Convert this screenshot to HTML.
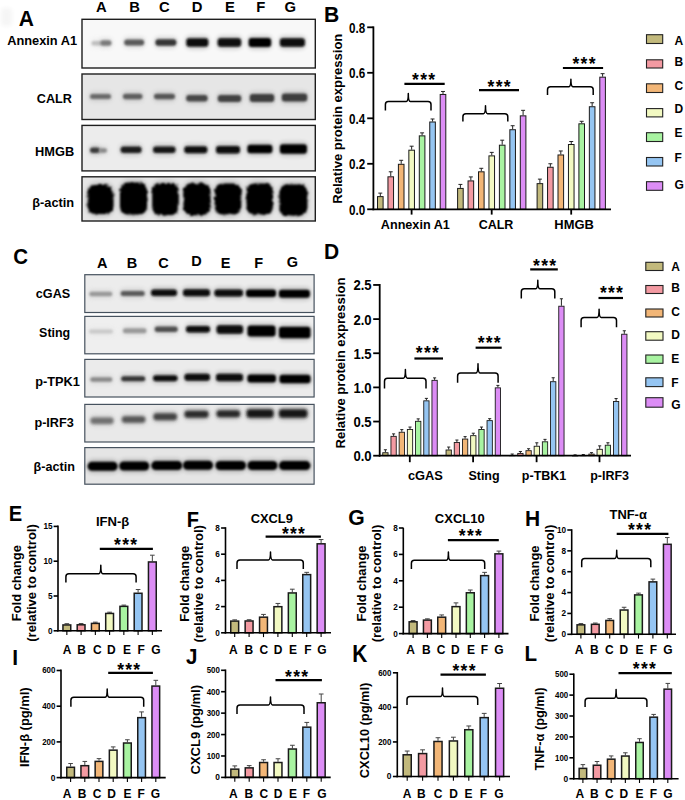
<!DOCTYPE html><html><head><meta charset="utf-8"><style>html,body{margin:0;padding:0;background:#fff;}svg{display:block;}text{font-family:"Liberation Sans", sans-serif;}</style></head><body>
<svg width="685" height="800" viewBox="0 0 685 800">
<defs><filter id="b1" x="-50%" y="-100%" width="200%" height="300%"><feGaussianBlur stdDeviation="1.3"/></filter><filter id="b2" x="-50%" y="-100%" width="200%" height="300%"><feGaussianBlur stdDeviation="2"/></filter><filter id="b4" x="-50%" y="-100%" width="200%" height="300%"><feGaussianBlur stdDeviation="1.7"/></filter><filter id="b3" x="-50%" y="-100%" width="200%" height="300%"><feGaussianBlur stdDeviation="0.8"/></filter><filter id="fz" x="-30%" y="-30%" width="160%" height="160%"><feTurbulence type="fractalNoise" baseFrequency="0.35" numOctaves="2" seed="3" result="n"/><feDisplacementMap in="SourceGraphic" in2="n" scale="3.5" xChannelSelector="R" yChannelSelector="G" result="d"/><feGaussianBlur in="d" stdDeviation="1.3"/></filter><filter id="fz2" x="-30%" y="-60%" width="160%" height="220%"><feTurbulence type="fractalNoise" baseFrequency="0.3" numOctaves="2" seed="7" result="n"/><feDisplacementMap in="SourceGraphic" in2="n" scale="2.5" xChannelSelector="R" yChannelSelector="G" result="d"/><feGaussianBlur in="d" stdDeviation="1.3"/></filter></defs>
<rect x="0" y="0" width="685" height="800" fill="#fff" stroke="none" stroke-width="0"/>
<rect x="1" y="8" width="11" height="18" rx="4" fill="#f5f5f5" filter="url(#b2)"/>
<text transform="translate(18.68 25.5) scale(1 1.09)" x="0" y="0" font-size="21" font-weight="bold">A</text>
<text x="101.3" y="12.2" font-size="14.8" text-anchor="middle" font-weight="bold" fill="#000">A</text>
<text x="134.5" y="12.2" font-size="14.8" text-anchor="middle" font-weight="bold" fill="#000">B</text>
<text x="164.4" y="12.2" font-size="14.8" text-anchor="middle" font-weight="bold" fill="#000">C</text>
<text x="197" y="12.2" font-size="14.8" text-anchor="middle" font-weight="bold" fill="#000">D</text>
<text x="229.9" y="12.2" font-size="14.8" text-anchor="middle" font-weight="bold" fill="#000">E</text>
<text x="260.8" y="12.2" font-size="14.8" text-anchor="middle" font-weight="bold" fill="#000">F</text>
<text x="290.3" y="12.2" font-size="14.8" text-anchor="middle" font-weight="bold" fill="#000">G</text>
<text x="7.2" y="45.4" font-size="13" text-anchor="start" font-weight="bold" fill="#000" textLength="69.9" lengthAdjust="spacingAndGlyphs">Annexin A1</text>
<text x="36.8" y="102.9" font-size="13" text-anchor="start" font-weight="bold" fill="#000" textLength="35.1" lengthAdjust="spacingAndGlyphs">CALR</text>
<text x="35.1" y="155.8" font-size="13" text-anchor="start" font-weight="bold" fill="#000" textLength="39.1" lengthAdjust="spacingAndGlyphs">HMGB</text>
<text x="32.2" y="206.6" font-size="13" text-anchor="start" font-weight="bold" fill="#000" textLength="42" lengthAdjust="spacingAndGlyphs">&#946;-actin</text>
<rect x="82" y="19.3" width="233.3" height="48.7" fill="#f8f8f8" stroke="#1e1e1e" stroke-width="1.4"/>
<rect x="90.5" y="38.45" width="13" height="9.5" rx="4.25" fill="#c0c0c0" opacity="0.18" filter="url(#b2)"/>
<rect x="91.5" y="40.95" width="11" height="4.5" rx="2.25" fill="#c0c0c0" opacity="1" filter="url(#b1)"/>
<rect x="99.5" y="37.75" width="13" height="10.5" rx="4.75" fill="#7a7a7a" opacity="0.18" filter="url(#b2)"/>
<rect x="100.5" y="40.25" width="11" height="5.5" rx="2.75" fill="#7a7a7a" opacity="1" filter="url(#b1)"/>
<rect x="123.2" y="36.9" width="22" height="11" rx="5" fill="#5a5a5a" opacity="0.18" filter="url(#b2)"/>
<rect x="124.2" y="39.4" width="20" height="6" rx="3" fill="#5a5a5a" opacity="1" filter="url(#b1)"/>
<rect x="154.4" y="36.65" width="23" height="11.5" rx="5" fill="#363636" opacity="0.18" filter="url(#b2)"/>
<rect x="155.4" y="39.15" width="21" height="6.5" rx="3" fill="#363636" opacity="1" filter="url(#b1)"/>
<rect x="185.3" y="35.65" width="24" height="13.5" rx="5" fill="#0a0a0a" opacity="0.18" filter="url(#b2)"/>
<rect x="186.3" y="38.15" width="22" height="8.5" rx="3" fill="#0a0a0a" opacity="1" filter="url(#b1)"/>
<rect x="216.65" y="35.65" width="25.5" height="13.5" rx="5" fill="#080808" opacity="0.18" filter="url(#b2)"/>
<rect x="217.65" y="38.15" width="23.5" height="8.5" rx="3" fill="#080808" opacity="1" filter="url(#b1)"/>
<rect x="247.65" y="35.4" width="24.5" height="14" rx="5" fill="#050505" opacity="0.18" filter="url(#b2)"/>
<rect x="248.65" y="37.9" width="22.5" height="9" rx="3" fill="#050505" opacity="1" filter="url(#b1)"/>
<rect x="278.9" y="35.65" width="27" height="13.5" rx="5" fill="#080808" opacity="0.18" filter="url(#b2)"/>
<rect x="279.9" y="38.15" width="25" height="8.5" rx="3" fill="#080808" opacity="1" filter="url(#b1)"/>
<rect x="82" y="74" width="233.3" height="45.5" fill="#e6e6e6" stroke="#1e1e1e" stroke-width="1.4"/>
<rect x="89" y="91.5" width="23" height="10" rx="4.5" fill="#6a6a6a" opacity="0.18" filter="url(#b2)"/>
<rect x="90" y="94" width="21" height="5" rx="2.5" fill="#6a6a6a" opacity="1" filter="url(#b1)"/>
<rect x="121.95" y="91.15" width="21.5" height="10.5" rx="4.75" fill="#5e5e5e" opacity="0.18" filter="url(#b2)"/>
<rect x="122.95" y="93.65" width="19.5" height="5.5" rx="2.75" fill="#5e5e5e" opacity="1" filter="url(#b1)"/>
<rect x="153" y="91.35" width="23" height="10.5" rx="4.75" fill="#565656" opacity="0.18" filter="url(#b2)"/>
<rect x="154" y="93.85" width="21" height="5.5" rx="2.75" fill="#565656" opacity="1" filter="url(#b1)"/>
<rect x="185.15" y="92.45" width="23.5" height="11.5" rx="5" fill="#464646" opacity="0.18" filter="url(#b2)"/>
<rect x="186.15" y="94.95" width="21.5" height="6.5" rx="3" fill="#464646" opacity="1" filter="url(#b1)"/>
<rect x="216.75" y="92.4" width="25.5" height="12" rx="5" fill="#424242" opacity="0.18" filter="url(#b2)"/>
<rect x="217.75" y="94.9" width="23.5" height="7" rx="3" fill="#424242" opacity="1" filter="url(#b1)"/>
<rect x="248.75" y="91.5" width="26.5" height="13" rx="5" fill="#3c3c3c" opacity="0.18" filter="url(#b2)"/>
<rect x="249.75" y="94" width="24.5" height="8" rx="3" fill="#3c3c3c" opacity="1" filter="url(#b1)"/>
<rect x="280.75" y="91.1" width="27.5" height="13" rx="5" fill="#3e3e3e" opacity="0.18" filter="url(#b2)"/>
<rect x="281.75" y="93.6" width="25.5" height="8" rx="3" fill="#3e3e3e" opacity="1" filter="url(#b1)"/>
<rect x="82" y="125.4" width="233.3" height="45.5" fill="#ececec" stroke="#1e1e1e" stroke-width="1.4"/>
<rect x="89" y="145.05" width="12" height="10.5" rx="4.75" fill="#3a3a3a" opacity="0.18" filter="url(#b2)"/>
<rect x="90" y="147.55" width="10" height="5.5" rx="2.75" fill="#3a3a3a" opacity="1" filter="url(#b1)"/>
<rect x="98" y="145.75" width="10" height="9.5" rx="4.25" fill="#8a8a8a" opacity="0.18" filter="url(#b2)"/>
<rect x="99" y="148.25" width="8" height="4.5" rx="2.25" fill="#8a8a8a" opacity="1" filter="url(#b1)"/>
<rect x="119.6" y="144.05" width="23" height="11.5" rx="5" fill="#1e1e1e" opacity="0.18" filter="url(#b2)"/>
<rect x="120.6" y="146.55" width="21" height="6.5" rx="3" fill="#1e1e1e" opacity="1" filter="url(#b1)"/>
<rect x="152.05" y="144.05" width="24.5" height="11.5" rx="5" fill="#161616" opacity="0.18" filter="url(#b2)"/>
<rect x="153.05" y="146.55" width="22.5" height="6.5" rx="3" fill="#161616" opacity="1" filter="url(#b1)"/>
<rect x="183.3" y="143.8" width="25" height="12" rx="5" fill="#0a0a0a" opacity="0.18" filter="url(#b2)"/>
<rect x="184.3" y="146.3" width="23" height="7" rx="3" fill="#0a0a0a" opacity="1" filter="url(#b1)"/>
<rect x="215" y="143.55" width="26" height="12.5" rx="5" fill="#0a0a0a" opacity="0.18" filter="url(#b2)"/>
<rect x="216" y="146.05" width="24" height="7.5" rx="3" fill="#0a0a0a" opacity="1" filter="url(#b1)"/>
<rect x="246.4" y="142.25" width="27" height="13.5" rx="5" fill="#050505" opacity="0.18" filter="url(#b2)"/>
<rect x="247.4" y="144.75" width="25" height="8.5" rx="3" fill="#050505" opacity="1" filter="url(#b1)"/>
<rect x="278.9" y="141.75" width="29" height="14.5" rx="5" fill="#050505" opacity="0.18" filter="url(#b2)"/>
<rect x="279.9" y="144.25" width="27" height="9.5" rx="3" fill="#050505" opacity="1" filter="url(#b1)"/>
<rect x="82" y="176.8" width="233.3" height="44.2" fill="#e6e6e6" stroke="#1e1e1e" stroke-width="1.4"/>
<rect x="86.5" y="182.5" width="28" height="34" rx="10" fill="#050505" opacity="0.18" filter="url(#b2)"/>
<rect x="87.5" y="185" width="26" height="29" rx="8" fill="#050505" opacity="1" filter="url(#fz)"/>
<rect x="119" y="180" width="29" height="37" rx="10" fill="#050505" opacity="0.18" filter="url(#b2)"/>
<rect x="120" y="182.5" width="27" height="32" rx="8" fill="#050505" opacity="1" filter="url(#fz)"/>
<rect x="151.25" y="180.5" width="28.5" height="37" rx="10" fill="#050505" opacity="0.18" filter="url(#b2)"/>
<rect x="152.25" y="183" width="26.5" height="32" rx="8" fill="#050505" opacity="1" filter="url(#fz)"/>
<rect x="182.5" y="180.7" width="29" height="37" rx="10" fill="#050505" opacity="0.18" filter="url(#b2)"/>
<rect x="183.5" y="183.2" width="27" height="32" rx="8" fill="#050505" opacity="1" filter="url(#fz)"/>
<rect x="213.75" y="181" width="28.5" height="36" rx="10" fill="#050505" opacity="0.18" filter="url(#b2)"/>
<rect x="214.75" y="183.5" width="26.5" height="31" rx="8" fill="#050505" opacity="1" filter="url(#fz)"/>
<rect x="245.45" y="181" width="28.5" height="36" rx="10" fill="#050505" opacity="0.18" filter="url(#b2)"/>
<rect x="246.45" y="183.5" width="26.5" height="31" rx="8" fill="#050505" opacity="1" filter="url(#fz)"/>
<rect x="278.4" y="182" width="30" height="36" rx="10" fill="#050505" opacity="0.18" filter="url(#b2)"/>
<rect x="279.4" y="184.5" width="28" height="31" rx="8" fill="#050505" opacity="1" filter="url(#fz)"/>
<text transform="translate(13.16 263.7) scale(1 1.08)" x="0" y="0" font-size="20.5" font-weight="bold">C</text>
<text x="102.2" y="267.6" font-size="14.5" text-anchor="middle" font-weight="bold" fill="#000">A</text>
<text x="132" y="267.6" font-size="14.5" text-anchor="middle" font-weight="bold" fill="#000">B</text>
<text x="163.6" y="267.6" font-size="14.5" text-anchor="middle" font-weight="bold" fill="#000">C</text>
<text x="196.5" y="266.3" font-size="14.5" text-anchor="middle" font-weight="bold" fill="#000">D</text>
<text x="225.6" y="267.6" font-size="14.5" text-anchor="middle" font-weight="bold" fill="#000">E</text>
<text x="258.6" y="267.6" font-size="14.5" text-anchor="middle" font-weight="bold" fill="#000">F</text>
<text x="292.5" y="267.3" font-size="14.5" text-anchor="middle" font-weight="bold" fill="#000">G</text>
<text x="35.8" y="297.5" font-size="13" text-anchor="start" font-weight="bold" fill="#000" textLength="34.4" lengthAdjust="spacingAndGlyphs">cGAS</text>
<text x="39.1" y="336.5" font-size="13" text-anchor="start" font-weight="bold" fill="#000" textLength="31.1" lengthAdjust="spacingAndGlyphs">Sting</text>
<text x="35.2" y="386" font-size="13" text-anchor="start" font-weight="bold" fill="#000" textLength="44.6" lengthAdjust="spacingAndGlyphs">p-TPK1</text>
<text x="34.4" y="427.2" font-size="13" text-anchor="start" font-weight="bold" fill="#000" textLength="39.4" lengthAdjust="spacingAndGlyphs">p-IRF3</text>
<text x="33.6" y="471.3" font-size="13" text-anchor="start" font-weight="bold" fill="#000" textLength="41.3" lengthAdjust="spacingAndGlyphs">&#946;-actin</text>
<rect x="84.8" y="274.7" width="229.3" height="37.8" fill="#ececec" stroke="#46525e" stroke-width="1.2"/>
<rect x="88.3" y="289.25" width="25" height="9.5" rx="4.25" fill="#999" opacity="0.18" filter="url(#b2)"/>
<rect x="89.3" y="291.75" width="23" height="4.5" rx="2.25" fill="#999" opacity="1" filter="url(#b1)"/>
<rect x="119.7" y="288.6" width="26" height="10" rx="4.5" fill="#5a5a5a" opacity="0.18" filter="url(#b2)"/>
<rect x="120.7" y="291.1" width="24" height="5" rx="2.5" fill="#5a5a5a" opacity="1" filter="url(#b1)"/>
<rect x="150" y="287.05" width="28" height="11.5" rx="5" fill="#0a0a0a" opacity="0.18" filter="url(#b2)"/>
<rect x="151" y="289.55" width="26" height="6.5" rx="3" fill="#0a0a0a" opacity="1" filter="url(#b1)"/>
<rect x="182" y="286.8" width="29" height="12" rx="5" fill="#080808" opacity="0.18" filter="url(#b2)"/>
<rect x="183" y="289.3" width="27" height="7" rx="3" fill="#080808" opacity="1" filter="url(#b1)"/>
<rect x="213.45" y="287" width="30.5" height="12" rx="5" fill="#080808" opacity="0.18" filter="url(#b2)"/>
<rect x="214.45" y="289.5" width="28.5" height="7" rx="3" fill="#080808" opacity="1" filter="url(#b1)"/>
<rect x="245" y="287.05" width="32" height="12.5" rx="5" fill="#060606" opacity="0.18" filter="url(#b2)"/>
<rect x="246" y="289.55" width="30" height="7.5" rx="3" fill="#060606" opacity="1" filter="url(#b1)"/>
<rect x="277.9" y="287.3" width="33" height="13" rx="5" fill="#060606" opacity="0.18" filter="url(#b2)"/>
<rect x="278.9" y="289.8" width="31" height="8" rx="3" fill="#060606" opacity="1" filter="url(#b1)"/>
<rect x="84.8" y="316.4" width="229.3" height="37.4" fill="#efefef" stroke="#46525e" stroke-width="1.2"/>
<rect x="88" y="326.9" width="26" height="9" rx="4" fill="#cacaca" opacity="0.18" filter="url(#b2)"/>
<rect x="89" y="329.4" width="24" height="4" rx="2" fill="#cacaca" opacity="1" filter="url(#b1)"/>
<rect x="121.95" y="325.8" width="25.5" height="10" rx="4.5" fill="#9a9a9a" opacity="0.18" filter="url(#b2)"/>
<rect x="122.95" y="328.3" width="23.5" height="5" rx="2.5" fill="#9a9a9a" opacity="1" filter="url(#b1)"/>
<rect x="153.7" y="323.95" width="25" height="10.5" rx="4.75" fill="#505050" opacity="0.18" filter="url(#b2)"/>
<rect x="154.7" y="326.45" width="23" height="5.5" rx="2.75" fill="#505050" opacity="1" filter="url(#b1)"/>
<rect x="185" y="323.45" width="26" height="11.5" rx="5" fill="#080808" opacity="0.18" filter="url(#b2)"/>
<rect x="186" y="325.95" width="24" height="6.5" rx="3" fill="#080808" opacity="1" filter="url(#b1)"/>
<rect x="215.55" y="322.75" width="28.5" height="13.5" rx="5" fill="#080808" opacity="0.18" filter="url(#b2)"/>
<rect x="216.55" y="325.25" width="26.5" height="8.5" rx="3" fill="#080808" opacity="1" filter="url(#b1)"/>
<rect x="246.5" y="323" width="30" height="16" rx="5" fill="#050505" opacity="0.18" filter="url(#b2)"/>
<rect x="247.5" y="325.5" width="28" height="11" rx="3" fill="#050505" opacity="1" filter="url(#b1)"/>
<rect x="277.95" y="324.25" width="33.5" height="16.5" rx="5" fill="#050505" opacity="0.18" filter="url(#b2)"/>
<rect x="278.95" y="326.75" width="31.5" height="11.5" rx="3" fill="#050505" opacity="1" filter="url(#b1)"/>
<rect x="84.8" y="359.4" width="229.3" height="37.6" fill="#ebebeb" stroke="#46525e" stroke-width="1.2"/>
<rect x="89.3" y="374.85" width="24" height="9.5" rx="4.25" fill="#8a8a8a" opacity="0.18" filter="url(#b2)"/>
<rect x="90.3" y="377.35" width="22" height="4.5" rx="2.25" fill="#8a8a8a" opacity="1" filter="url(#b1)"/>
<rect x="120.2" y="373.8" width="26" height="10" rx="4.5" fill="#363636" opacity="0.18" filter="url(#b2)"/>
<rect x="121.2" y="376.3" width="24" height="5" rx="2.5" fill="#363636" opacity="1" filter="url(#b1)"/>
<rect x="152.05" y="372.8" width="26.5" height="11" rx="5" fill="#0e0e0e" opacity="0.18" filter="url(#b2)"/>
<rect x="153.05" y="375.3" width="24.5" height="6" rx="3" fill="#0e0e0e" opacity="1" filter="url(#b1)"/>
<rect x="183.45" y="371.2" width="27.5" height="12" rx="5" fill="#080808" opacity="0.18" filter="url(#b2)"/>
<rect x="184.45" y="373.7" width="25.5" height="7" rx="3" fill="#080808" opacity="1" filter="url(#b1)"/>
<rect x="215" y="371.35" width="29" height="12.5" rx="5" fill="#080808" opacity="0.18" filter="url(#b2)"/>
<rect x="216" y="373.85" width="27" height="7.5" rx="3" fill="#080808" opacity="1" filter="url(#b1)"/>
<rect x="246.45" y="372.1" width="30.5" height="13" rx="5" fill="#060606" opacity="0.18" filter="url(#b2)"/>
<rect x="247.45" y="374.6" width="28.5" height="8" rx="3" fill="#060606" opacity="1" filter="url(#b1)"/>
<rect x="278.5" y="372.25" width="33" height="13.5" rx="5" fill="#060606" opacity="0.18" filter="url(#b2)"/>
<rect x="279.5" y="374.75" width="31" height="8.5" rx="3" fill="#060606" opacity="1" filter="url(#b1)"/>
<rect x="84.8" y="404.4" width="229.3" height="37.6" fill="#e9e9e9" stroke="#46525e" stroke-width="1.2"/>
<rect x="89.5" y="415.05" width="25" height="11.5" rx="5" fill="#707070" opacity="0.18" filter="url(#b2)"/>
<rect x="90.5" y="417.55" width="23" height="6.5" rx="3" fill="#707070" opacity="1" filter="url(#b4)"/>
<rect x="120.85" y="413.75" width="25.5" height="11.5" rx="5" fill="#555" opacity="0.18" filter="url(#b2)"/>
<rect x="121.85" y="416.25" width="23.5" height="6.5" rx="3" fill="#555" opacity="1" filter="url(#b4)"/>
<rect x="152.45" y="410.8" width="25.5" height="12" rx="5" fill="#424242" opacity="0.18" filter="url(#b2)"/>
<rect x="153.45" y="413.3" width="23.5" height="7" rx="3" fill="#424242" opacity="1" filter="url(#b4)"/>
<rect x="183.5" y="408.2" width="26" height="12" rx="5" fill="#2a2a2a" opacity="0.18" filter="url(#b2)"/>
<rect x="184.5" y="410.7" width="24" height="7" rx="3" fill="#2a2a2a" opacity="1" filter="url(#b4)"/>
<rect x="215.55" y="407.8" width="25.5" height="12" rx="5" fill="#262626" opacity="0.18" filter="url(#b2)"/>
<rect x="216.55" y="410.3" width="23.5" height="7" rx="3" fill="#262626" opacity="1" filter="url(#b4)"/>
<rect x="245.6" y="406.75" width="29" height="13.5" rx="5" fill="#151515" opacity="0.18" filter="url(#b2)"/>
<rect x="246.6" y="409.25" width="27" height="8.5" rx="3" fill="#151515" opacity="1" filter="url(#b4)"/>
<rect x="277.95" y="406.85" width="30.5" height="13.5" rx="5" fill="#151515" opacity="0.18" filter="url(#b2)"/>
<rect x="278.95" y="409.35" width="28.5" height="8.5" rx="3" fill="#151515" opacity="1" filter="url(#b4)"/>
<rect x="84.8" y="447.6" width="229.3" height="36.6" fill="#e5e5e5" stroke="#46525e" stroke-width="1.2"/>
<rect x="86.6" y="459.3" width="32" height="14" rx="6.5" fill="#050505" opacity="0.18" filter="url(#b2)"/>
<rect x="87.6" y="461.8" width="30" height="9" rx="4.5" fill="#050505" opacity="1" filter="url(#b3)"/>
<rect x="118.2" y="459" width="32" height="14" rx="6.5" fill="#050505" opacity="0.18" filter="url(#b2)"/>
<rect x="119.2" y="461.5" width="30" height="9" rx="4.5" fill="#050505" opacity="1" filter="url(#b3)"/>
<rect x="150.3" y="458.6" width="33" height="14" rx="6.5" fill="#050505" opacity="0.18" filter="url(#b2)"/>
<rect x="151.3" y="461.1" width="31" height="9" rx="4.5" fill="#050505" opacity="1" filter="url(#b3)"/>
<rect x="182" y="458.3" width="32" height="14" rx="6.5" fill="#050505" opacity="0.18" filter="url(#b2)"/>
<rect x="183" y="460.8" width="30" height="9" rx="4.5" fill="#050505" opacity="1" filter="url(#b3)"/>
<rect x="214.45" y="458.5" width="32.5" height="14" rx="6.5" fill="#050505" opacity="0.18" filter="url(#b2)"/>
<rect x="215.45" y="461" width="30.5" height="9" rx="4.5" fill="#050505" opacity="1" filter="url(#b3)"/>
<rect x="246.5" y="458.5" width="32" height="14" rx="6.5" fill="#050505" opacity="0.18" filter="url(#b2)"/>
<rect x="247.5" y="461" width="30" height="9" rx="4.5" fill="#050505" opacity="1" filter="url(#b3)"/>
<rect x="277.95" y="458.6" width="33.5" height="14" rx="6.5" fill="#050505" opacity="0.18" filter="url(#b2)"/>
<rect x="278.95" y="461.1" width="31.5" height="9" rx="4.5" fill="#050505" opacity="1" filter="url(#b3)"/>
<text transform="translate(323.89 22) scale(1 1.02)" x="0" y="0" font-size="21.1" font-weight="bold">B</text>
<text x="342.3" y="118.7" font-size="13" text-anchor="middle" font-weight="bold" fill="#000" textLength="170" lengthAdjust="spacingAndGlyphs" transform="rotate(-90 342.3 118.7)">Relative protein expression</text>
<line x1="380.3" y1="196.11" x2="380.3" y2="193.11" stroke="#222" stroke-width="1" stroke-linecap="butt"/>
<line x1="378.32" y1="193.11" x2="382.28" y2="193.11" stroke="#222" stroke-width="1" stroke-linecap="butt"/>
<rect x="377.5" y="196.61" width="5.6" height="12.7" fill="#c2b97c" stroke="#1a1a1a" stroke-width="1"/>
<line x1="390.75" y1="176.31" x2="390.75" y2="171.81" stroke="#222" stroke-width="1" stroke-linecap="butt"/>
<line x1="388.77" y1="171.81" x2="392.73" y2="171.81" stroke="#222" stroke-width="1" stroke-linecap="butt"/>
<rect x="387.95" y="176.81" width="5.6" height="32.49" fill="#f39aa2" stroke="#1a1a1a" stroke-width="1"/>
<line x1="401.2" y1="163.8" x2="401.2" y2="160.3" stroke="#222" stroke-width="1" stroke-linecap="butt"/>
<line x1="399.22" y1="160.3" x2="403.18" y2="160.3" stroke="#222" stroke-width="1" stroke-linecap="butt"/>
<rect x="398.4" y="164.3" width="5.6" height="45" fill="#f2b677" stroke="#1a1a1a" stroke-width="1"/>
<line x1="411.65" y1="149.69" x2="411.65" y2="146.19" stroke="#222" stroke-width="1" stroke-linecap="butt"/>
<line x1="409.67" y1="146.19" x2="413.63" y2="146.19" stroke="#222" stroke-width="1" stroke-linecap="butt"/>
<rect x="408.85" y="150.19" width="5.6" height="59.11" fill="#f2f9c2" stroke="#1a1a1a" stroke-width="1"/>
<line x1="422.1" y1="135.36" x2="422.1" y2="132.86" stroke="#222" stroke-width="1" stroke-linecap="butt"/>
<line x1="420.12" y1="132.86" x2="424.08" y2="132.86" stroke="#222" stroke-width="1" stroke-linecap="butt"/>
<rect x="419.3" y="135.86" width="5.6" height="73.44" fill="#a8f3a1" stroke="#1a1a1a" stroke-width="1"/>
<line x1="432.55" y1="121.49" x2="432.55" y2="118.99" stroke="#222" stroke-width="1" stroke-linecap="butt"/>
<line x1="430.57" y1="118.99" x2="434.53" y2="118.99" stroke="#222" stroke-width="1" stroke-linecap="butt"/>
<rect x="429.75" y="121.99" width="5.6" height="87.31" fill="#95c5f2" stroke="#1a1a1a" stroke-width="1"/>
<line x1="443" y1="93.96" x2="443" y2="91.46" stroke="#222" stroke-width="1" stroke-linecap="butt"/>
<line x1="441.02" y1="91.46" x2="444.98" y2="91.46" stroke="#222" stroke-width="1" stroke-linecap="butt"/>
<rect x="440.2" y="94.46" width="5.6" height="114.84" fill="#dc8df5" stroke="#1a1a1a" stroke-width="1"/>
<line x1="411.6" y1="209.3" x2="411.6" y2="214.6" stroke="#000" stroke-width="1.8" stroke-linecap="butt"/>
<line x1="460.4" y1="187.92" x2="460.4" y2="184.42" stroke="#222" stroke-width="1" stroke-linecap="butt"/>
<line x1="458.42" y1="184.42" x2="462.38" y2="184.42" stroke="#222" stroke-width="1" stroke-linecap="butt"/>
<rect x="457.6" y="188.42" width="5.6" height="20.89" fill="#c2b97c" stroke="#1a1a1a" stroke-width="1"/>
<line x1="470.85" y1="180.41" x2="470.85" y2="176.91" stroke="#222" stroke-width="1" stroke-linecap="butt"/>
<line x1="468.87" y1="176.91" x2="472.83" y2="176.91" stroke="#222" stroke-width="1" stroke-linecap="butt"/>
<rect x="468.05" y="180.91" width="5.6" height="28.39" fill="#f39aa2" stroke="#1a1a1a" stroke-width="1"/>
<line x1="481.3" y1="171.31" x2="481.3" y2="168.31" stroke="#222" stroke-width="1" stroke-linecap="butt"/>
<line x1="479.32" y1="168.31" x2="483.28" y2="168.31" stroke="#222" stroke-width="1" stroke-linecap="butt"/>
<rect x="478.5" y="171.81" width="5.6" height="37.49" fill="#f2b677" stroke="#1a1a1a" stroke-width="1"/>
<line x1="491.75" y1="155.38" x2="491.75" y2="152.38" stroke="#222" stroke-width="1" stroke-linecap="butt"/>
<line x1="489.77" y1="152.38" x2="493.73" y2="152.38" stroke="#222" stroke-width="1" stroke-linecap="butt"/>
<rect x="488.95" y="155.88" width="5.6" height="53.42" fill="#f2f9c2" stroke="#1a1a1a" stroke-width="1"/>
<line x1="502.2" y1="144.69" x2="502.2" y2="140.19" stroke="#222" stroke-width="1" stroke-linecap="butt"/>
<line x1="500.22" y1="140.19" x2="504.18" y2="140.19" stroke="#222" stroke-width="1" stroke-linecap="butt"/>
<rect x="499.4" y="145.19" width="5.6" height="64.11" fill="#a8f3a1" stroke="#1a1a1a" stroke-width="1"/>
<line x1="512.65" y1="129.22" x2="512.65" y2="125.72" stroke="#222" stroke-width="1" stroke-linecap="butt"/>
<line x1="510.67" y1="125.72" x2="514.63" y2="125.72" stroke="#222" stroke-width="1" stroke-linecap="butt"/>
<rect x="509.85" y="129.72" width="5.6" height="79.58" fill="#95c5f2" stroke="#1a1a1a" stroke-width="1"/>
<line x1="523.1" y1="115.34" x2="523.1" y2="110.34" stroke="#222" stroke-width="1" stroke-linecap="butt"/>
<line x1="521.12" y1="110.34" x2="525.08" y2="110.34" stroke="#222" stroke-width="1" stroke-linecap="butt"/>
<rect x="520.3" y="115.84" width="5.6" height="93.46" fill="#dc8df5" stroke="#1a1a1a" stroke-width="1"/>
<line x1="491.7" y1="209.3" x2="491.7" y2="214.6" stroke="#000" stroke-width="1.8" stroke-linecap="butt"/>
<line x1="539.9" y1="183.14" x2="539.9" y2="179.14" stroke="#222" stroke-width="1" stroke-linecap="butt"/>
<line x1="537.92" y1="179.14" x2="541.88" y2="179.14" stroke="#222" stroke-width="1" stroke-linecap="butt"/>
<rect x="537.1" y="183.64" width="5.6" height="25.66" fill="#c2b97c" stroke="#1a1a1a" stroke-width="1"/>
<line x1="550.35" y1="166.76" x2="550.35" y2="163.76" stroke="#222" stroke-width="1" stroke-linecap="butt"/>
<line x1="548.37" y1="163.76" x2="552.33" y2="163.76" stroke="#222" stroke-width="1" stroke-linecap="butt"/>
<rect x="547.55" y="167.26" width="5.6" height="42.04" fill="#f39aa2" stroke="#1a1a1a" stroke-width="1"/>
<line x1="560.8" y1="154.47" x2="560.8" y2="150.97" stroke="#222" stroke-width="1" stroke-linecap="butt"/>
<line x1="558.82" y1="150.97" x2="562.78" y2="150.97" stroke="#222" stroke-width="1" stroke-linecap="butt"/>
<rect x="558" y="154.97" width="5.6" height="54.33" fill="#f2b677" stroke="#1a1a1a" stroke-width="1"/>
<line x1="571.25" y1="144.01" x2="571.25" y2="141.51" stroke="#222" stroke-width="1" stroke-linecap="butt"/>
<line x1="569.27" y1="141.51" x2="573.23" y2="141.51" stroke="#222" stroke-width="1" stroke-linecap="butt"/>
<rect x="568.45" y="144.51" width="5.6" height="64.79" fill="#f2f9c2" stroke="#1a1a1a" stroke-width="1"/>
<line x1="581.7" y1="123.31" x2="581.7" y2="121.31" stroke="#222" stroke-width="1" stroke-linecap="butt"/>
<line x1="579.72" y1="121.31" x2="583.68" y2="121.31" stroke="#222" stroke-width="1" stroke-linecap="butt"/>
<rect x="578.9" y="123.81" width="5.6" height="85.5" fill="#a8f3a1" stroke="#1a1a1a" stroke-width="1"/>
<line x1="592.15" y1="106.24" x2="592.15" y2="102.74" stroke="#222" stroke-width="1" stroke-linecap="butt"/>
<line x1="590.17" y1="102.74" x2="594.13" y2="102.74" stroke="#222" stroke-width="1" stroke-linecap="butt"/>
<rect x="589.35" y="106.74" width="5.6" height="102.56" fill="#95c5f2" stroke="#1a1a1a" stroke-width="1"/>
<line x1="602.6" y1="76.67" x2="602.6" y2="73.67" stroke="#222" stroke-width="1" stroke-linecap="butt"/>
<line x1="600.62" y1="73.67" x2="604.58" y2="73.67" stroke="#222" stroke-width="1" stroke-linecap="butt"/>
<rect x="599.8" y="77.17" width="5.6" height="132.13" fill="#dc8df5" stroke="#1a1a1a" stroke-width="1"/>
<line x1="571.2" y1="209.3" x2="571.2" y2="214.6" stroke="#000" stroke-width="1.8" stroke-linecap="butt"/>
<line x1="373.4" y1="26.4" x2="373.4" y2="210.2" stroke="#000" stroke-width="1.8" stroke-linecap="butt"/>
<line x1="372.5" y1="209.3" x2="611" y2="209.3" stroke="#000" stroke-width="1.8" stroke-linecap="butt"/>
<line x1="367.2" y1="209.3" x2="373.4" y2="209.3" stroke="#000" stroke-width="1.8" stroke-linecap="butt"/>
<text x="365.2" y="214.76" font-size="14" text-anchor="end" font-weight="bold" fill="#000" textLength="16.2" lengthAdjust="spacingAndGlyphs">0.0</text>
<line x1="367.2" y1="163.8" x2="373.4" y2="163.8" stroke="#000" stroke-width="1.8" stroke-linecap="butt"/>
<text x="365.2" y="169.26" font-size="14" text-anchor="end" font-weight="bold" fill="#000" textLength="16.2" lengthAdjust="spacingAndGlyphs">0.2</text>
<line x1="367.2" y1="118.3" x2="373.4" y2="118.3" stroke="#000" stroke-width="1.8" stroke-linecap="butt"/>
<text x="365.2" y="123.76" font-size="14" text-anchor="end" font-weight="bold" fill="#000" textLength="16.2" lengthAdjust="spacingAndGlyphs">0.4</text>
<line x1="367.2" y1="72.8" x2="373.4" y2="72.8" stroke="#000" stroke-width="1.8" stroke-linecap="butt"/>
<text x="365.2" y="78.26" font-size="14" text-anchor="end" font-weight="bold" fill="#000" textLength="16.2" lengthAdjust="spacingAndGlyphs">0.6</text>
<line x1="367.2" y1="27.3" x2="373.4" y2="27.3" stroke="#000" stroke-width="1.8" stroke-linecap="butt"/>
<text x="365.2" y="32.76" font-size="14" text-anchor="end" font-weight="bold" fill="#000" textLength="16.2" lengthAdjust="spacingAndGlyphs">0.8</text>
<line x1="404.4" y1="83.8" x2="444.7" y2="83.8" stroke="#000" stroke-width="2.2" stroke-linecap="butt"/>
<text x="415.53" y="86.49" font-size="17.55" text-anchor="middle" font-weight="bold" fill="#000">*</text>
<text x="423.6" y="86.49" font-size="17.55" text-anchor="middle" font-weight="bold" fill="#000">*</text>
<text x="431.67" y="86.49" font-size="17.55" text-anchor="middle" font-weight="bold" fill="#000">*</text>
<path d="M385.4 110.4 V104.6 Q385.4 101.6 388.4 101.6 H406.3 Q408.3 101.6 408.3 93.6 Q408.3 101.6 410.3 101.6 H428 Q431 101.6 431 104.6 V110.4" fill="none" stroke="#000" stroke-width="1.5" stroke-linejoin="round"/>
<line x1="479" y1="90.1" x2="519" y2="90.1" stroke="#000" stroke-width="2.2" stroke-linecap="butt"/>
<text x="491.03" y="92.99" font-size="17.55" text-anchor="middle" font-weight="bold" fill="#000">*</text>
<text x="499.1" y="92.99" font-size="17.55" text-anchor="middle" font-weight="bold" fill="#000">*</text>
<text x="507.17" y="92.99" font-size="17.55" text-anchor="middle" font-weight="bold" fill="#000">*</text>
<path d="M462.9 121.4 V116.7 Q462.9 113.7 465.9 113.7 H483.5 Q485.5 113.7 485.5 105.8 Q485.5 113.7 487.5 113.7 H504.8 Q507.8 113.7 507.8 116.7 V121.4" fill="none" stroke="#000" stroke-width="1.5" stroke-linejoin="round"/>
<line x1="562.9" y1="68" x2="603.1" y2="68" stroke="#000" stroke-width="2.2" stroke-linecap="butt"/>
<text x="575.93" y="70.09" font-size="17.55" text-anchor="middle" font-weight="bold" fill="#000">*</text>
<text x="584" y="70.09" font-size="17.55" text-anchor="middle" font-weight="bold" fill="#000">*</text>
<text x="592.07" y="70.09" font-size="17.55" text-anchor="middle" font-weight="bold" fill="#000">*</text>
<path d="M547.5 95.1 V89.7 Q547.5 86.7 550.5 86.7 H568.9 Q570.9 86.7 570.9 79.2 Q570.9 86.7 572.9 86.7 H590.2 Q593.2 86.7 593.2 89.7 V95.1" fill="none" stroke="#000" stroke-width="1.5" stroke-linejoin="round"/>
<text x="415.3" y="229.2" font-size="12.5" text-anchor="middle" font-weight="bold" fill="#000" textLength="69" lengthAdjust="spacingAndGlyphs">Annexin A1</text>
<text x="496" y="229.2" font-size="12.5" text-anchor="middle" font-weight="bold" fill="#000">CALR</text>
<text x="574.1" y="229.2" font-size="12.5" text-anchor="middle" font-weight="bold" fill="#000" textLength="39.5" lengthAdjust="spacingAndGlyphs">HMGB</text>
<rect x="646.5" y="34.7" width="16.2" height="8.8" fill="#c2b97c" stroke="#222" stroke-width="1.1"/>
<text x="674.6" y="44.9" font-size="12" text-anchor="start" font-weight="bold" fill="#000">A</text>
<rect x="646.5" y="59.8" width="16.2" height="8.2" fill="#f39aa2" stroke="#222" stroke-width="1.1"/>
<text x="674.6" y="66" font-size="12" text-anchor="start" font-weight="bold" fill="#000">B</text>
<rect x="646.5" y="83.8" width="16.2" height="8.7" fill="#f2b677" stroke="#222" stroke-width="1.1"/>
<text x="674.6" y="90.1" font-size="12" text-anchor="start" font-weight="bold" fill="#000">C</text>
<rect x="646.5" y="108.6" width="16.2" height="8.3" fill="#f2f9c2" stroke="#222" stroke-width="1.1"/>
<text x="674.6" y="112.6" font-size="12" text-anchor="start" font-weight="bold" fill="#000">D</text>
<rect x="646.5" y="132.7" width="16.2" height="8.8" fill="#a8f3a1" stroke="#222" stroke-width="1.1"/>
<text x="674.6" y="137.2" font-size="12" text-anchor="start" font-weight="bold" fill="#000">E</text>
<rect x="646.5" y="157.5" width="16.2" height="8.5" fill="#95c5f2" stroke="#222" stroke-width="1.1"/>
<text x="674.6" y="161.5" font-size="12" text-anchor="start" font-weight="bold" fill="#000">F</text>
<rect x="646.5" y="181.7" width="16.2" height="8.6" fill="#dc8df5" stroke="#222" stroke-width="1.1"/>
<text x="674.6" y="189.4" font-size="12" text-anchor="start" font-weight="bold" fill="#000">G</text>
<text transform="translate(323.9 259) scale(1 1.06)" x="0" y="0" font-size="21" font-weight="bold">D</text>
<text x="345.3" y="363" font-size="13" text-anchor="middle" font-weight="bold" fill="#000" textLength="171" lengthAdjust="spacingAndGlyphs" transform="rotate(-90 345.3 363)">Relative protein expression</text>
<line x1="385.4" y1="452.28" x2="385.4" y2="449.78" stroke="#222" stroke-width="1" stroke-linecap="butt"/>
<line x1="383.85" y1="449.78" x2="386.95" y2="449.78" stroke="#222" stroke-width="1" stroke-linecap="butt"/>
<rect x="382.75" y="452.73" width="5.3" height="2.96" fill="#c2b97c" stroke="#1a1a1a" stroke-width="0.9"/>
<line x1="393.6" y1="435.89" x2="393.6" y2="433.89" stroke="#222" stroke-width="1" stroke-linecap="butt"/>
<line x1="392.05" y1="433.89" x2="395.15" y2="433.89" stroke="#222" stroke-width="1" stroke-linecap="butt"/>
<rect x="390.95" y="436.34" width="5.3" height="19.36" fill="#f39aa2" stroke="#1a1a1a" stroke-width="0.9"/>
<line x1="401.8" y1="431.8" x2="401.8" y2="429.6" stroke="#222" stroke-width="1" stroke-linecap="butt"/>
<line x1="400.25" y1="429.6" x2="403.35" y2="429.6" stroke="#222" stroke-width="1" stroke-linecap="butt"/>
<rect x="399.15" y="432.25" width="5.3" height="23.45" fill="#f2b677" stroke="#1a1a1a" stroke-width="0.9"/>
<line x1="410" y1="429.06" x2="410" y2="427.06" stroke="#222" stroke-width="1" stroke-linecap="butt"/>
<line x1="408.45" y1="427.06" x2="411.55" y2="427.06" stroke="#222" stroke-width="1" stroke-linecap="butt"/>
<rect x="407.35" y="429.51" width="5.3" height="26.19" fill="#f2f9c2" stroke="#1a1a1a" stroke-width="0.9"/>
<line x1="418.2" y1="420.87" x2="418.2" y2="418.87" stroke="#222" stroke-width="1" stroke-linecap="butt"/>
<line x1="416.65" y1="418.87" x2="419.75" y2="418.87" stroke="#222" stroke-width="1" stroke-linecap="butt"/>
<rect x="415.55" y="421.32" width="5.3" height="34.38" fill="#a8f3a1" stroke="#1a1a1a" stroke-width="0.9"/>
<line x1="426.4" y1="400.38" x2="426.4" y2="398.38" stroke="#222" stroke-width="1" stroke-linecap="butt"/>
<line x1="424.85" y1="398.38" x2="427.95" y2="398.38" stroke="#222" stroke-width="1" stroke-linecap="butt"/>
<rect x="423.75" y="400.83" width="5.3" height="54.87" fill="#95c5f2" stroke="#1a1a1a" stroke-width="0.9"/>
<line x1="434.6" y1="379.89" x2="434.6" y2="377.89" stroke="#222" stroke-width="1" stroke-linecap="butt"/>
<line x1="433.05" y1="377.89" x2="436.15" y2="377.89" stroke="#222" stroke-width="1" stroke-linecap="butt"/>
<rect x="431.95" y="380.34" width="5.3" height="75.36" fill="#dc8df5" stroke="#1a1a1a" stroke-width="0.9"/>
<line x1="409.8" y1="455.7" x2="409.8" y2="462.2" stroke="#000" stroke-width="1.8" stroke-linecap="butt"/>
<line x1="448.7" y1="449.55" x2="448.7" y2="447.05" stroke="#222" stroke-width="1" stroke-linecap="butt"/>
<line x1="447.15" y1="447.05" x2="450.25" y2="447.05" stroke="#222" stroke-width="1" stroke-linecap="butt"/>
<rect x="446.05" y="450" width="5.3" height="5.7" fill="#c2b97c" stroke="#1a1a1a" stroke-width="0.9"/>
<line x1="456.9" y1="442.04" x2="456.9" y2="440.04" stroke="#222" stroke-width="1" stroke-linecap="butt"/>
<line x1="455.35" y1="440.04" x2="458.45" y2="440.04" stroke="#222" stroke-width="1" stroke-linecap="butt"/>
<rect x="454.25" y="442.49" width="5.3" height="13.21" fill="#f39aa2" stroke="#1a1a1a" stroke-width="0.9"/>
<line x1="465.1" y1="438.62" x2="465.1" y2="436.62" stroke="#222" stroke-width="1" stroke-linecap="butt"/>
<line x1="463.55" y1="436.62" x2="466.65" y2="436.62" stroke="#222" stroke-width="1" stroke-linecap="butt"/>
<rect x="462.45" y="439.07" width="5.3" height="16.62" fill="#f2b677" stroke="#1a1a1a" stroke-width="0.9"/>
<line x1="473.3" y1="435.21" x2="473.3" y2="433.21" stroke="#222" stroke-width="1" stroke-linecap="butt"/>
<line x1="471.75" y1="433.21" x2="474.85" y2="433.21" stroke="#222" stroke-width="1" stroke-linecap="butt"/>
<rect x="470.65" y="435.66" width="5.3" height="20.04" fill="#f2f9c2" stroke="#1a1a1a" stroke-width="0.9"/>
<line x1="481.5" y1="429.06" x2="481.5" y2="427.06" stroke="#222" stroke-width="1" stroke-linecap="butt"/>
<line x1="479.95" y1="427.06" x2="483.05" y2="427.06" stroke="#222" stroke-width="1" stroke-linecap="butt"/>
<rect x="478.85" y="429.51" width="5.3" height="26.19" fill="#a8f3a1" stroke="#1a1a1a" stroke-width="0.9"/>
<line x1="489.7" y1="420.18" x2="489.7" y2="418.68" stroke="#222" stroke-width="1" stroke-linecap="butt"/>
<line x1="488.15" y1="418.68" x2="491.25" y2="418.68" stroke="#222" stroke-width="1" stroke-linecap="butt"/>
<rect x="487.05" y="420.63" width="5.3" height="35.07" fill="#95c5f2" stroke="#1a1a1a" stroke-width="0.9"/>
<line x1="497.9" y1="387.4" x2="497.9" y2="385.4" stroke="#222" stroke-width="1" stroke-linecap="butt"/>
<line x1="496.35" y1="385.4" x2="499.45" y2="385.4" stroke="#222" stroke-width="1" stroke-linecap="butt"/>
<rect x="495.25" y="387.85" width="5.3" height="67.85" fill="#dc8df5" stroke="#1a1a1a" stroke-width="0.9"/>
<line x1="473.1" y1="455.7" x2="473.1" y2="462.2" stroke="#000" stroke-width="1.8" stroke-linecap="butt"/>
<line x1="512.2" y1="455.02" x2="512.2" y2="454.02" stroke="#222" stroke-width="1" stroke-linecap="butt"/>
<line x1="510.65" y1="454.02" x2="513.75" y2="454.02" stroke="#222" stroke-width="1" stroke-linecap="butt"/>
<rect x="509.55" y="455.47" width="5.3" height="0.23" fill="#c2b97c" stroke="#1a1a1a" stroke-width="0.9"/>
<line x1="520.4" y1="452.97" x2="520.4" y2="451.47" stroke="#222" stroke-width="1" stroke-linecap="butt"/>
<line x1="518.85" y1="451.47" x2="521.95" y2="451.47" stroke="#222" stroke-width="1" stroke-linecap="butt"/>
<rect x="517.75" y="453.42" width="5.3" height="2.28" fill="#f39aa2" stroke="#1a1a1a" stroke-width="0.9"/>
<line x1="528.6" y1="450.24" x2="528.6" y2="448.74" stroke="#222" stroke-width="1" stroke-linecap="butt"/>
<line x1="527.05" y1="448.74" x2="530.15" y2="448.74" stroke="#222" stroke-width="1" stroke-linecap="butt"/>
<rect x="525.95" y="450.69" width="5.3" height="5.01" fill="#f2b677" stroke="#1a1a1a" stroke-width="0.9"/>
<line x1="536.8" y1="445.8" x2="536.8" y2="442.8" stroke="#222" stroke-width="1" stroke-linecap="butt"/>
<line x1="535.25" y1="442.8" x2="538.35" y2="442.8" stroke="#222" stroke-width="1" stroke-linecap="butt"/>
<rect x="534.15" y="446.25" width="5.3" height="9.45" fill="#f2f9c2" stroke="#1a1a1a" stroke-width="0.9"/>
<line x1="545" y1="441.36" x2="545" y2="439.36" stroke="#222" stroke-width="1" stroke-linecap="butt"/>
<line x1="543.45" y1="439.36" x2="546.55" y2="439.36" stroke="#222" stroke-width="1" stroke-linecap="butt"/>
<rect x="542.35" y="441.81" width="5.3" height="13.89" fill="#a8f3a1" stroke="#1a1a1a" stroke-width="0.9"/>
<line x1="553.2" y1="381.25" x2="553.2" y2="377.75" stroke="#222" stroke-width="1" stroke-linecap="butt"/>
<line x1="551.65" y1="377.75" x2="554.75" y2="377.75" stroke="#222" stroke-width="1" stroke-linecap="butt"/>
<rect x="550.55" y="381.7" width="5.3" height="74" fill="#95c5f2" stroke="#1a1a1a" stroke-width="0.9"/>
<line x1="561.4" y1="305.78" x2="561.4" y2="298.78" stroke="#222" stroke-width="1" stroke-linecap="butt"/>
<line x1="559.85" y1="298.78" x2="562.95" y2="298.78" stroke="#222" stroke-width="1" stroke-linecap="butt"/>
<rect x="558.75" y="306.23" width="5.3" height="149.47" fill="#dc8df5" stroke="#1a1a1a" stroke-width="0.9"/>
<line x1="536.6" y1="455.7" x2="536.6" y2="462.2" stroke="#000" stroke-width="1.8" stroke-linecap="butt"/>
<line x1="575.1" y1="455.36" x2="575.1" y2="454.86" stroke="#222" stroke-width="1" stroke-linecap="butt"/>
<line x1="573.55" y1="454.86" x2="576.65" y2="454.86" stroke="#222" stroke-width="1" stroke-linecap="butt"/>
<rect x="572.45" y="455.81" width="5.3" height="0.1" fill="#c2b97c" stroke="#1a1a1a" stroke-width="0.9"/>
<line x1="583.3" y1="455.02" x2="583.3" y2="454.52" stroke="#222" stroke-width="1" stroke-linecap="butt"/>
<line x1="581.75" y1="454.52" x2="584.85" y2="454.52" stroke="#222" stroke-width="1" stroke-linecap="butt"/>
<rect x="580.65" y="455.47" width="5.3" height="0.23" fill="#f39aa2" stroke="#1a1a1a" stroke-width="0.9"/>
<line x1="591.5" y1="453.65" x2="591.5" y2="452.65" stroke="#222" stroke-width="1" stroke-linecap="butt"/>
<line x1="589.95" y1="452.65" x2="593.05" y2="452.65" stroke="#222" stroke-width="1" stroke-linecap="butt"/>
<rect x="588.85" y="454.1" width="5.3" height="1.6" fill="#f2b677" stroke="#1a1a1a" stroke-width="0.9"/>
<line x1="599.7" y1="448.87" x2="599.7" y2="445.87" stroke="#222" stroke-width="1" stroke-linecap="butt"/>
<line x1="598.15" y1="445.87" x2="601.25" y2="445.87" stroke="#222" stroke-width="1" stroke-linecap="butt"/>
<rect x="597.05" y="449.32" width="5.3" height="6.38" fill="#f2f9c2" stroke="#1a1a1a" stroke-width="0.9"/>
<line x1="607.9" y1="444.77" x2="607.9" y2="442.77" stroke="#222" stroke-width="1" stroke-linecap="butt"/>
<line x1="606.35" y1="442.77" x2="609.45" y2="442.77" stroke="#222" stroke-width="1" stroke-linecap="butt"/>
<rect x="605.25" y="445.22" width="5.3" height="10.48" fill="#a8f3a1" stroke="#1a1a1a" stroke-width="0.9"/>
<line x1="616.1" y1="401.06" x2="616.1" y2="398.56" stroke="#222" stroke-width="1" stroke-linecap="butt"/>
<line x1="614.55" y1="398.56" x2="617.65" y2="398.56" stroke="#222" stroke-width="1" stroke-linecap="butt"/>
<rect x="613.45" y="401.51" width="5.3" height="54.19" fill="#95c5f2" stroke="#1a1a1a" stroke-width="0.9"/>
<line x1="624.3" y1="333.78" x2="624.3" y2="330.78" stroke="#222" stroke-width="1" stroke-linecap="butt"/>
<line x1="622.75" y1="330.78" x2="625.85" y2="330.78" stroke="#222" stroke-width="1" stroke-linecap="butt"/>
<rect x="621.65" y="334.23" width="5.3" height="121.47" fill="#dc8df5" stroke="#1a1a1a" stroke-width="0.9"/>
<line x1="599.5" y1="455.7" x2="599.5" y2="462.2" stroke="#000" stroke-width="1.8" stroke-linecap="butt"/>
<line x1="379.7" y1="284" x2="379.7" y2="456.6" stroke="#000" stroke-width="1.8" stroke-linecap="butt"/>
<line x1="378.8" y1="455.7" x2="631" y2="455.7" stroke="#000" stroke-width="1.8" stroke-linecap="butt"/>
<line x1="373.2" y1="455.7" x2="379.7" y2="455.7" stroke="#000" stroke-width="1.8" stroke-linecap="butt"/>
<text x="371.6" y="461.16" font-size="14" text-anchor="end" font-weight="bold" fill="#000" textLength="18.2" lengthAdjust="spacingAndGlyphs">0.0</text>
<line x1="373.2" y1="421.55" x2="379.7" y2="421.55" stroke="#000" stroke-width="1.8" stroke-linecap="butt"/>
<text x="371.6" y="427.01" font-size="14" text-anchor="end" font-weight="bold" fill="#000" textLength="18.2" lengthAdjust="spacingAndGlyphs">0.5</text>
<line x1="373.2" y1="387.4" x2="379.7" y2="387.4" stroke="#000" stroke-width="1.8" stroke-linecap="butt"/>
<text x="371.6" y="392.86" font-size="14" text-anchor="end" font-weight="bold" fill="#000" textLength="18.2" lengthAdjust="spacingAndGlyphs">1.0</text>
<line x1="373.2" y1="353.25" x2="379.7" y2="353.25" stroke="#000" stroke-width="1.8" stroke-linecap="butt"/>
<text x="371.6" y="358.71" font-size="14" text-anchor="end" font-weight="bold" fill="#000" textLength="18.2" lengthAdjust="spacingAndGlyphs">1.5</text>
<line x1="373.2" y1="319.1" x2="379.7" y2="319.1" stroke="#000" stroke-width="1.8" stroke-linecap="butt"/>
<text x="371.6" y="324.56" font-size="14" text-anchor="end" font-weight="bold" fill="#000" textLength="18.2" lengthAdjust="spacingAndGlyphs">2.0</text>
<line x1="373.2" y1="284.95" x2="379.7" y2="284.95" stroke="#000" stroke-width="1.8" stroke-linecap="butt"/>
<text x="371.6" y="290.41" font-size="14" text-anchor="end" font-weight="bold" fill="#000" textLength="18.2" lengthAdjust="spacingAndGlyphs">2.5</text>
<line x1="414.4" y1="358.5" x2="443" y2="358.5" stroke="#000" stroke-width="2.2" stroke-linecap="butt"/>
<text x="419.23" y="359.19" font-size="17.55" text-anchor="middle" font-weight="bold" fill="#000">*</text>
<text x="427.3" y="359.19" font-size="17.55" text-anchor="middle" font-weight="bold" fill="#000">*</text>
<text x="435.37" y="359.19" font-size="17.55" text-anchor="middle" font-weight="bold" fill="#000">*</text>
<path d="M384.5 388.4 V381.2 Q384.5 378.2 387.5 378.2 H403.4 Q405.4 378.2 405.4 369.5 Q405.4 378.2 407.4 378.2 H423 Q426 378.2 426 381.2 V388.4" fill="none" stroke="#000" stroke-width="1.5" stroke-linejoin="round"/>
<line x1="475.6" y1="347.7" x2="501.7" y2="347.7" stroke="#000" stroke-width="2.2" stroke-linecap="butt"/>
<text x="481.13" y="349.39" font-size="17.55" text-anchor="middle" font-weight="bold" fill="#000">*</text>
<text x="489.2" y="349.39" font-size="17.55" text-anchor="middle" font-weight="bold" fill="#000">*</text>
<text x="497.27" y="349.39" font-size="17.55" text-anchor="middle" font-weight="bold" fill="#000">*</text>
<path d="M457.6 382.7 V376.1 Q457.6 373.1 460.6 373.1 H476 Q478 373.1 478 363.8 Q478 373.1 480 373.1 H495.1 Q498.1 373.1 498.1 376.1 V382.7" fill="none" stroke="#000" stroke-width="1.5" stroke-linejoin="round"/>
<line x1="530.2" y1="269.4" x2="557.8" y2="269.4" stroke="#000" stroke-width="2.2" stroke-linecap="butt"/>
<text x="536.53" y="272.09" font-size="17.55" text-anchor="middle" font-weight="bold" fill="#000">*</text>
<text x="544.6" y="272.09" font-size="17.55" text-anchor="middle" font-weight="bold" fill="#000">*</text>
<text x="552.67" y="272.09" font-size="17.55" text-anchor="middle" font-weight="bold" fill="#000">*</text>
<path d="M521.3 298.6 V291.8 Q521.3 288.8 524.3 288.8 H535.8 Q537.8 288.8 537.8 280.2 Q537.8 288.8 539.8 288.8 H551.8 Q554.8 288.8 554.8 291.8 V298.6" fill="none" stroke="#000" stroke-width="1.5" stroke-linejoin="round"/>
<line x1="598.5" y1="298" x2="623" y2="298" stroke="#000" stroke-width="2.2" stroke-linecap="butt"/>
<text x="603.33" y="299.09" font-size="17.55" text-anchor="middle" font-weight="bold" fill="#000">*</text>
<text x="611.4" y="299.09" font-size="17.55" text-anchor="middle" font-weight="bold" fill="#000">*</text>
<text x="619.47" y="299.09" font-size="17.55" text-anchor="middle" font-weight="bold" fill="#000">*</text>
<path d="M581.1 327.3 V320.4 Q581.1 317.4 584.1 317.4 H597.1 Q599.1 317.4 599.1 309.3 Q599.1 317.4 601.1 317.4 H613.5 Q616.5 317.4 616.5 320.4 V327.3" fill="none" stroke="#000" stroke-width="1.5" stroke-linejoin="round"/>
<text x="425.4" y="480.2" font-size="12.5" text-anchor="middle" font-weight="bold" fill="#000" textLength="35" lengthAdjust="spacingAndGlyphs">cGAS</text>
<text x="484" y="480.2" font-size="12.5" text-anchor="middle" font-weight="bold" fill="#000">Sting</text>
<text x="544.1" y="480.2" font-size="12.5" text-anchor="middle" font-weight="bold" fill="#000">p-TBK1</text>
<text x="609.6" y="480.2" font-size="12.5" text-anchor="middle" font-weight="bold" fill="#000">p-IRF3</text>
<rect x="645.8" y="262.3" width="17.2" height="8.2" fill="#c2b97c" stroke="#222" stroke-width="1.1"/>
<text x="671.3" y="270.8" font-size="12" text-anchor="start" font-weight="bold" fill="#000">A</text>
<rect x="645.8" y="285.5" width="17.2" height="8" fill="#f39aa2" stroke="#222" stroke-width="1.1"/>
<text x="671.3" y="291.8" font-size="12" text-anchor="start" font-weight="bold" fill="#000">B</text>
<rect x="645.8" y="309" width="17.2" height="8" fill="#f2b677" stroke="#222" stroke-width="1.1"/>
<text x="671.3" y="315.7" font-size="12" text-anchor="start" font-weight="bold" fill="#000">C</text>
<rect x="645.8" y="331.7" width="17.2" height="8.5" fill="#f2f9c2" stroke="#222" stroke-width="1.1"/>
<text x="671.3" y="339.1" font-size="12" text-anchor="start" font-weight="bold" fill="#000">D</text>
<rect x="645.8" y="355" width="17.2" height="8.3" fill="#a8f3a1" stroke="#222" stroke-width="1.1"/>
<text x="671.3" y="362.7" font-size="12" text-anchor="start" font-weight="bold" fill="#000">E</text>
<rect x="645.8" y="377.8" width="17.2" height="8.8" fill="#95c5f2" stroke="#222" stroke-width="1.1"/>
<text x="671.3" y="387.1" font-size="12" text-anchor="start" font-weight="bold" fill="#000">F</text>
<rect x="645.8" y="397.7" width="17.2" height="9.5" fill="#dc8df5" stroke="#222" stroke-width="1.1"/>
<text x="671.3" y="408.6" font-size="12" text-anchor="start" font-weight="bold" fill="#000">G</text>
<text transform="translate(8.75 520.7) scale(1 1.11)" x="0" y="0" font-size="20.2" font-weight="bold">E</text>
<text x="112.6" y="526" font-size="12" text-anchor="middle" font-weight="bold" fill="#000" textLength="33.4" lengthAdjust="spacingAndGlyphs">IFN-&#946;</text>
<text x="20.8" y="583.2" font-size="12.5" text-anchor="middle" font-weight="bold" fill="#000" textLength="76" lengthAdjust="spacingAndGlyphs" transform="rotate(-90 20.8 583.2)">Fold change</text>
<text x="36.1" y="583" font-size="12.5" text-anchor="middle" font-weight="bold" fill="#000" textLength="117.5" lengthAdjust="spacingAndGlyphs" transform="rotate(-90 36.1 583)">(relative to control)</text>
<line x1="66.85" y1="624.19" x2="66.85" y2="623.69" stroke="#444" stroke-width="1" stroke-linecap="butt"/>
<line x1="64.53" y1="623.69" x2="69.18" y2="623.69" stroke="#444" stroke-width="1" stroke-linecap="butt"/>
<rect x="62.95" y="624.94" width="7.8" height="5.86" fill="#c2b97c" stroke="#1a1a1a" stroke-width="1.5"/>
<line x1="81.1" y1="624.05" x2="81.1" y2="623.55" stroke="#444" stroke-width="1" stroke-linecap="butt"/>
<line x1="78.78" y1="623.55" x2="83.43" y2="623.55" stroke="#444" stroke-width="1" stroke-linecap="butt"/>
<rect x="77.2" y="624.8" width="7.8" height="6" fill="#f39aa2" stroke="#1a1a1a" stroke-width="1.5"/>
<line x1="95.35" y1="622.66" x2="95.35" y2="622.16" stroke="#444" stroke-width="1" stroke-linecap="butt"/>
<line x1="93.03" y1="622.16" x2="97.68" y2="622.16" stroke="#444" stroke-width="1" stroke-linecap="butt"/>
<rect x="91.45" y="623.41" width="7.8" height="7.39" fill="#f2b677" stroke="#1a1a1a" stroke-width="1.5"/>
<line x1="109.6" y1="612.7" x2="109.6" y2="612.2" stroke="#444" stroke-width="1" stroke-linecap="butt"/>
<line x1="107.28" y1="612.2" x2="111.93" y2="612.2" stroke="#444" stroke-width="1" stroke-linecap="butt"/>
<rect x="105.7" y="613.45" width="7.8" height="17.35" fill="#f2f9c2" stroke="#1a1a1a" stroke-width="1.5"/>
<line x1="123.85" y1="605.6" x2="123.85" y2="605.1" stroke="#444" stroke-width="1" stroke-linecap="butt"/>
<line x1="121.53" y1="605.1" x2="126.18" y2="605.1" stroke="#444" stroke-width="1" stroke-linecap="butt"/>
<rect x="119.95" y="606.35" width="7.8" height="24.45" fill="#a8f3a1" stroke="#1a1a1a" stroke-width="1.5"/>
<line x1="138.1" y1="592.52" x2="138.1" y2="589.52" stroke="#444" stroke-width="1" stroke-linecap="butt"/>
<line x1="135.78" y1="589.52" x2="140.42" y2="589.52" stroke="#444" stroke-width="1" stroke-linecap="butt"/>
<rect x="134.2" y="593.27" width="7.8" height="37.53" fill="#95c5f2" stroke="#1a1a1a" stroke-width="1.5"/>
<line x1="152.35" y1="561.2" x2="152.35" y2="555.2" stroke="#444" stroke-width="1" stroke-linecap="butt"/>
<line x1="150.03" y1="555.2" x2="154.67" y2="555.2" stroke="#444" stroke-width="1" stroke-linecap="butt"/>
<rect x="148.45" y="561.95" width="7.8" height="68.85" fill="#dc8df5" stroke="#1a1a1a" stroke-width="1.5"/>
<line x1="66.85" y1="630.8" x2="66.85" y2="635.1" stroke="#000" stroke-width="1.1" stroke-linecap="butt"/>
<line x1="81.1" y1="630.8" x2="81.1" y2="635.1" stroke="#000" stroke-width="1.1" stroke-linecap="butt"/>
<line x1="95.35" y1="630.8" x2="95.35" y2="635.1" stroke="#000" stroke-width="1.1" stroke-linecap="butt"/>
<line x1="109.6" y1="630.8" x2="109.6" y2="635.1" stroke="#000" stroke-width="1.1" stroke-linecap="butt"/>
<line x1="123.85" y1="630.8" x2="123.85" y2="635.1" stroke="#000" stroke-width="1.1" stroke-linecap="butt"/>
<line x1="138.1" y1="630.8" x2="138.1" y2="635.1" stroke="#000" stroke-width="1.1" stroke-linecap="butt"/>
<line x1="152.35" y1="630.8" x2="152.35" y2="635.1" stroke="#000" stroke-width="1.1" stroke-linecap="butt"/>
<line x1="58" y1="525.6" x2="58" y2="631.6" stroke="#000" stroke-width="1.6" stroke-linecap="butt"/>
<line x1="57.2" y1="630.8" x2="162" y2="630.8" stroke="#000" stroke-width="1.6" stroke-linecap="butt"/>
<line x1="53.6" y1="630.8" x2="58" y2="630.8" stroke="#000" stroke-width="1.6" stroke-linecap="butt"/>
<text x="52.5" y="633.7" font-size="8.2" text-anchor="end" font-weight="bold" fill="#000">0</text>
<line x1="53.6" y1="596" x2="58" y2="596" stroke="#000" stroke-width="1.6" stroke-linecap="butt"/>
<text x="52.5" y="598.9" font-size="8.2" text-anchor="end" font-weight="bold" fill="#000">5</text>
<line x1="53.6" y1="561.2" x2="58" y2="561.2" stroke="#000" stroke-width="1.6" stroke-linecap="butt"/>
<text x="52.5" y="564.1" font-size="8.2" text-anchor="end" font-weight="bold" fill="#000">10</text>
<line x1="53.6" y1="526.4" x2="58" y2="526.4" stroke="#000" stroke-width="1.6" stroke-linecap="butt"/>
<text x="52.5" y="529.3" font-size="8.2" text-anchor="end" font-weight="bold" fill="#000">15</text>
<line x1="99.8" y1="548.9" x2="152.9" y2="548.9" stroke="#000" stroke-width="2.2" stroke-linecap="butt"/>
<text x="117.53" y="551.19" font-size="17.55" text-anchor="middle" font-weight="bold" fill="#000">*</text>
<text x="125.6" y="551.19" font-size="17.55" text-anchor="middle" font-weight="bold" fill="#000">*</text>
<text x="133.67" y="551.19" font-size="17.55" text-anchor="middle" font-weight="bold" fill="#000">*</text>
<path d="M65.9 582.5 V576.8 Q65.9 573.8 68.9 573.8 H98.8 Q100.8 573.8 100.8 565.3 Q100.8 573.8 102.8 573.8 H133.1 Q136.1 573.8 136.1 576.8 V582.5" fill="none" stroke="#000" stroke-width="1.5" stroke-linejoin="round"/>
<text x="67" y="653.6" font-size="12" text-anchor="middle" font-weight="bold" fill="#000">A</text>
<text x="81.5" y="653.6" font-size="12" text-anchor="middle" font-weight="bold" fill="#000">B</text>
<text x="97.3" y="653.6" font-size="12" text-anchor="middle" font-weight="bold" fill="#000">C</text>
<text x="111.3" y="653.6" font-size="12" text-anchor="middle" font-weight="bold" fill="#000">D</text>
<text x="127" y="653.6" font-size="12" text-anchor="middle" font-weight="bold" fill="#000">E</text>
<text x="141.1" y="653.6" font-size="12" text-anchor="middle" font-weight="bold" fill="#000">F</text>
<text x="156" y="653.6" font-size="12" text-anchor="middle" font-weight="bold" fill="#000">G</text>
<text transform="translate(186.66 526.6) scale(1 1.12)" x="0" y="0" font-size="20" font-weight="bold">F</text>
<text x="271.8" y="522.8" font-size="12" text-anchor="middle" font-weight="bold" fill="#000" textLength="42.2" lengthAdjust="spacingAndGlyphs">CXCL9</text>
<text x="189.3" y="583.8" font-size="12.5" text-anchor="middle" font-weight="bold" fill="#000" textLength="76" lengthAdjust="spacingAndGlyphs" transform="rotate(-90 189.3 583.8)">Fold change</text>
<text x="203.5" y="583.8" font-size="12.5" text-anchor="middle" font-weight="bold" fill="#000" textLength="117.5" lengthAdjust="spacingAndGlyphs" transform="rotate(-90 203.5 583.8)">(relative to control)</text>
<line x1="234.7" y1="620.35" x2="234.7" y2="619.85" stroke="#444" stroke-width="1" stroke-linecap="butt"/>
<line x1="232.35" y1="619.85" x2="237.05" y2="619.85" stroke="#444" stroke-width="1" stroke-linecap="butt"/>
<rect x="230.75" y="621.1" width="7.9" height="11.69" fill="#c2b97c" stroke="#1a1a1a" stroke-width="1.5"/>
<line x1="249.1" y1="620.22" x2="249.1" y2="619.72" stroke="#444" stroke-width="1" stroke-linecap="butt"/>
<line x1="246.75" y1="619.72" x2="251.45" y2="619.72" stroke="#444" stroke-width="1" stroke-linecap="butt"/>
<rect x="245.15" y="620.97" width="7.9" height="11.83" fill="#f39aa2" stroke="#1a1a1a" stroke-width="1.5"/>
<line x1="263.5" y1="616.42" x2="263.5" y2="614.42" stroke="#444" stroke-width="1" stroke-linecap="butt"/>
<line x1="261.15" y1="614.42" x2="265.85" y2="614.42" stroke="#444" stroke-width="1" stroke-linecap="butt"/>
<rect x="259.55" y="617.17" width="7.9" height="15.62" fill="#f2b677" stroke="#1a1a1a" stroke-width="1.5"/>
<line x1="277.9" y1="605.94" x2="277.9" y2="603.44" stroke="#444" stroke-width="1" stroke-linecap="butt"/>
<line x1="275.55" y1="603.44" x2="280.25" y2="603.44" stroke="#444" stroke-width="1" stroke-linecap="butt"/>
<rect x="273.95" y="606.69" width="7.9" height="26.1" fill="#f2f9c2" stroke="#1a1a1a" stroke-width="1.5"/>
<line x1="292.3" y1="592.19" x2="292.3" y2="589.19" stroke="#444" stroke-width="1" stroke-linecap="butt"/>
<line x1="289.95" y1="589.19" x2="294.65" y2="589.19" stroke="#444" stroke-width="1" stroke-linecap="butt"/>
<rect x="288.35" y="592.94" width="7.9" height="39.86" fill="#a8f3a1" stroke="#1a1a1a" stroke-width="1.5"/>
<line x1="306.7" y1="573.85" x2="306.7" y2="572.35" stroke="#444" stroke-width="1" stroke-linecap="butt"/>
<line x1="304.35" y1="572.35" x2="309.05" y2="572.35" stroke="#444" stroke-width="1" stroke-linecap="butt"/>
<rect x="302.75" y="574.6" width="7.9" height="58.2" fill="#95c5f2" stroke="#1a1a1a" stroke-width="1.5"/>
<line x1="321.1" y1="543.06" x2="321.1" y2="539.56" stroke="#444" stroke-width="1" stroke-linecap="butt"/>
<line x1="318.75" y1="539.56" x2="323.45" y2="539.56" stroke="#444" stroke-width="1" stroke-linecap="butt"/>
<rect x="317.15" y="543.81" width="7.9" height="88.98" fill="#dc8df5" stroke="#1a1a1a" stroke-width="1.5"/>
<line x1="234.7" y1="632.8" x2="234.7" y2="637.1" stroke="#000" stroke-width="1.1" stroke-linecap="butt"/>
<line x1="249.1" y1="632.8" x2="249.1" y2="637.1" stroke="#000" stroke-width="1.1" stroke-linecap="butt"/>
<line x1="263.5" y1="632.8" x2="263.5" y2="637.1" stroke="#000" stroke-width="1.1" stroke-linecap="butt"/>
<line x1="277.9" y1="632.8" x2="277.9" y2="637.1" stroke="#000" stroke-width="1.1" stroke-linecap="butt"/>
<line x1="292.3" y1="632.8" x2="292.3" y2="637.1" stroke="#000" stroke-width="1.1" stroke-linecap="butt"/>
<line x1="306.7" y1="632.8" x2="306.7" y2="637.1" stroke="#000" stroke-width="1.1" stroke-linecap="butt"/>
<line x1="321.1" y1="632.8" x2="321.1" y2="637.1" stroke="#000" stroke-width="1.1" stroke-linecap="butt"/>
<line x1="225.5" y1="527.2" x2="225.5" y2="633.6" stroke="#000" stroke-width="1.6" stroke-linecap="butt"/>
<line x1="224.7" y1="632.8" x2="331" y2="632.8" stroke="#000" stroke-width="1.6" stroke-linecap="butt"/>
<line x1="221.1" y1="632.8" x2="225.5" y2="632.8" stroke="#000" stroke-width="1.6" stroke-linecap="butt"/>
<text x="219.9" y="635.7" font-size="8.2" text-anchor="end" font-weight="bold" fill="#000">0</text>
<line x1="221.1" y1="606.6" x2="225.5" y2="606.6" stroke="#000" stroke-width="1.6" stroke-linecap="butt"/>
<text x="219.9" y="609.5" font-size="8.2" text-anchor="end" font-weight="bold" fill="#000">2</text>
<line x1="221.1" y1="580.4" x2="225.5" y2="580.4" stroke="#000" stroke-width="1.6" stroke-linecap="butt"/>
<text x="219.9" y="583.3" font-size="8.2" text-anchor="end" font-weight="bold" fill="#000">4</text>
<line x1="221.1" y1="554.2" x2="225.5" y2="554.2" stroke="#000" stroke-width="1.6" stroke-linecap="butt"/>
<text x="219.9" y="557.1" font-size="8.2" text-anchor="end" font-weight="bold" fill="#000">6</text>
<line x1="221.1" y1="528" x2="225.5" y2="528" stroke="#000" stroke-width="1.6" stroke-linecap="butt"/>
<text x="219.9" y="530.9" font-size="8.2" text-anchor="end" font-weight="bold" fill="#000">8</text>
<line x1="265.6" y1="536.7" x2="320.9" y2="536.7" stroke="#000" stroke-width="2.2" stroke-linecap="butt"/>
<text x="285.33" y="540.49" font-size="17.55" text-anchor="middle" font-weight="bold" fill="#000">*</text>
<text x="293.4" y="540.49" font-size="17.55" text-anchor="middle" font-weight="bold" fill="#000">*</text>
<text x="301.47" y="540.49" font-size="17.55" text-anchor="middle" font-weight="bold" fill="#000">*</text>
<path d="M237 569 V563 Q237 560 240 560 H268.5 Q270.5 560 270.5 552.1 Q270.5 560 272.5 560 H300.3 Q303.3 560 303.3 563 V569" fill="none" stroke="#000" stroke-width="1.5" stroke-linejoin="round"/>
<text x="233.3" y="653.8" font-size="12" text-anchor="middle" font-weight="bold" fill="#000">A</text>
<text x="248.9" y="653.8" font-size="12" text-anchor="middle" font-weight="bold" fill="#000">B</text>
<text x="263.8" y="653.8" font-size="12" text-anchor="middle" font-weight="bold" fill="#000">C</text>
<text x="278" y="653.8" font-size="12" text-anchor="middle" font-weight="bold" fill="#000">D</text>
<text x="292.9" y="653.8" font-size="12" text-anchor="middle" font-weight="bold" fill="#000">E</text>
<text x="307.8" y="653.8" font-size="12" text-anchor="middle" font-weight="bold" fill="#000">F</text>
<text x="321.9" y="653.8" font-size="12" text-anchor="middle" font-weight="bold" fill="#000">G</text>
<text transform="translate(348.33 525) scale(1 1.04)" x="0" y="0" font-size="21.2" font-weight="bold">G</text>
<text x="459.8" y="522.8" font-size="12" text-anchor="middle" font-weight="bold" fill="#000" textLength="49.9" lengthAdjust="spacingAndGlyphs">CXCL10</text>
<text x="365.7" y="583.5" font-size="12.5" text-anchor="middle" font-weight="bold" fill="#000" textLength="76" lengthAdjust="spacingAndGlyphs" transform="rotate(-90 365.7 583.5)">Fold change</text>
<text x="380.8" y="583.5" font-size="12.5" text-anchor="middle" font-weight="bold" fill="#000" textLength="117.5" lengthAdjust="spacingAndGlyphs" transform="rotate(-90 380.8 583.5)">(relative to control)</text>
<line x1="413.1" y1="621.06" x2="413.1" y2="620.56" stroke="#444" stroke-width="1" stroke-linecap="butt"/>
<line x1="410.75" y1="620.56" x2="415.45" y2="620.56" stroke="#444" stroke-width="1" stroke-linecap="butt"/>
<rect x="409.15" y="621.81" width="7.9" height="11.79" fill="#c2b97c" stroke="#1a1a1a" stroke-width="1.5"/>
<line x1="427.4" y1="619.34" x2="427.4" y2="618.84" stroke="#444" stroke-width="1" stroke-linecap="butt"/>
<line x1="425.05" y1="618.84" x2="429.75" y2="618.84" stroke="#444" stroke-width="1" stroke-linecap="butt"/>
<rect x="423.45" y="620.09" width="7.9" height="13.51" fill="#f39aa2" stroke="#1a1a1a" stroke-width="1.5"/>
<line x1="441.7" y1="616.44" x2="441.7" y2="614.94" stroke="#444" stroke-width="1" stroke-linecap="butt"/>
<line x1="439.35" y1="614.94" x2="444.05" y2="614.94" stroke="#444" stroke-width="1" stroke-linecap="butt"/>
<rect x="437.75" y="617.19" width="7.9" height="16.41" fill="#f2b677" stroke="#1a1a1a" stroke-width="1.5"/>
<line x1="456" y1="605.88" x2="456" y2="602.88" stroke="#444" stroke-width="1" stroke-linecap="butt"/>
<line x1="453.65" y1="602.88" x2="458.35" y2="602.88" stroke="#444" stroke-width="1" stroke-linecap="butt"/>
<rect x="452.05" y="606.63" width="7.9" height="26.97" fill="#f2f9c2" stroke="#1a1a1a" stroke-width="1.5"/>
<line x1="470.3" y1="592.02" x2="470.3" y2="590.02" stroke="#444" stroke-width="1" stroke-linecap="butt"/>
<line x1="467.95" y1="590.02" x2="472.65" y2="590.02" stroke="#444" stroke-width="1" stroke-linecap="butt"/>
<rect x="466.35" y="592.77" width="7.9" height="40.83" fill="#a8f3a1" stroke="#1a1a1a" stroke-width="1.5"/>
<line x1="484.6" y1="574.86" x2="484.6" y2="572.36" stroke="#444" stroke-width="1" stroke-linecap="butt"/>
<line x1="482.25" y1="572.36" x2="486.95" y2="572.36" stroke="#444" stroke-width="1" stroke-linecap="butt"/>
<rect x="480.65" y="575.61" width="7.9" height="57.99" fill="#95c5f2" stroke="#1a1a1a" stroke-width="1.5"/>
<line x1="498.9" y1="553.08" x2="498.9" y2="551.08" stroke="#444" stroke-width="1" stroke-linecap="butt"/>
<line x1="496.55" y1="551.08" x2="501.25" y2="551.08" stroke="#444" stroke-width="1" stroke-linecap="butt"/>
<rect x="494.95" y="553.83" width="7.9" height="79.77" fill="#dc8df5" stroke="#1a1a1a" stroke-width="1.5"/>
<line x1="413.1" y1="633.6" x2="413.1" y2="637.9" stroke="#000" stroke-width="1.1" stroke-linecap="butt"/>
<line x1="427.4" y1="633.6" x2="427.4" y2="637.9" stroke="#000" stroke-width="1.1" stroke-linecap="butt"/>
<line x1="441.7" y1="633.6" x2="441.7" y2="637.9" stroke="#000" stroke-width="1.1" stroke-linecap="butt"/>
<line x1="456" y1="633.6" x2="456" y2="637.9" stroke="#000" stroke-width="1.1" stroke-linecap="butt"/>
<line x1="470.3" y1="633.6" x2="470.3" y2="637.9" stroke="#000" stroke-width="1.1" stroke-linecap="butt"/>
<line x1="484.6" y1="633.6" x2="484.6" y2="637.9" stroke="#000" stroke-width="1.1" stroke-linecap="butt"/>
<line x1="498.9" y1="633.6" x2="498.9" y2="637.9" stroke="#000" stroke-width="1.1" stroke-linecap="butt"/>
<line x1="403.3" y1="527.7" x2="403.3" y2="634.4" stroke="#000" stroke-width="1.6" stroke-linecap="butt"/>
<line x1="402.5" y1="633.6" x2="508.5" y2="633.6" stroke="#000" stroke-width="1.6" stroke-linecap="butt"/>
<line x1="398.9" y1="633.6" x2="403.3" y2="633.6" stroke="#000" stroke-width="1.6" stroke-linecap="butt"/>
<text x="397.7" y="636.5" font-size="8.2" text-anchor="end" font-weight="bold" fill="#000">0</text>
<line x1="398.9" y1="607.2" x2="403.3" y2="607.2" stroke="#000" stroke-width="1.6" stroke-linecap="butt"/>
<text x="397.7" y="610.1" font-size="8.2" text-anchor="end" font-weight="bold" fill="#000">2</text>
<line x1="398.9" y1="580.8" x2="403.3" y2="580.8" stroke="#000" stroke-width="1.6" stroke-linecap="butt"/>
<text x="397.7" y="583.7" font-size="8.2" text-anchor="end" font-weight="bold" fill="#000">4</text>
<line x1="398.9" y1="554.4" x2="403.3" y2="554.4" stroke="#000" stroke-width="1.6" stroke-linecap="butt"/>
<text x="397.7" y="557.3" font-size="8.2" text-anchor="end" font-weight="bold" fill="#000">6</text>
<line x1="398.9" y1="528" x2="403.3" y2="528" stroke="#000" stroke-width="1.6" stroke-linecap="butt"/>
<text x="397.7" y="530.9" font-size="8.2" text-anchor="end" font-weight="bold" fill="#000">8</text>
<line x1="447.9" y1="540.2" x2="498.8" y2="540.2" stroke="#000" stroke-width="2.2" stroke-linecap="butt"/>
<text x="462.23" y="541.79" font-size="17.55" text-anchor="middle" font-weight="bold" fill="#000">*</text>
<text x="470.3" y="541.79" font-size="17.55" text-anchor="middle" font-weight="bold" fill="#000">*</text>
<text x="478.37" y="541.79" font-size="17.55" text-anchor="middle" font-weight="bold" fill="#000">*</text>
<path d="M411.4 569 V563.3 Q411.4 560.3 414.4 560.3 H446.4 Q448.4 560.3 448.4 552.1 Q448.4 560.3 450.4 560.3 H481.7 Q484.7 560.3 484.7 563.3 V569" fill="none" stroke="#000" stroke-width="1.5" stroke-linejoin="round"/>
<text x="410.7" y="653.8" font-size="12" text-anchor="middle" font-weight="bold" fill="#000">A</text>
<text x="426.3" y="653.8" font-size="12" text-anchor="middle" font-weight="bold" fill="#000">B</text>
<text x="441.2" y="653.8" font-size="12" text-anchor="middle" font-weight="bold" fill="#000">C</text>
<text x="455.4" y="653.8" font-size="12" text-anchor="middle" font-weight="bold" fill="#000">D</text>
<text x="471" y="653.8" font-size="12" text-anchor="middle" font-weight="bold" fill="#000">E</text>
<text x="484.4" y="653.8" font-size="12" text-anchor="middle" font-weight="bold" fill="#000">F</text>
<text x="498.8" y="653.8" font-size="12" text-anchor="middle" font-weight="bold" fill="#000">G</text>
<text transform="translate(525.1 526) scale(1 1.07)" x="0" y="0" font-size="21" font-weight="bold">H</text>
<text x="628.2" y="519.2" font-size="12" text-anchor="middle" font-weight="bold" fill="#000" textLength="37.3" lengthAdjust="spacingAndGlyphs">TNF-&#945;</text>
<text x="538.7" y="583.5" font-size="12.5" text-anchor="middle" font-weight="bold" fill="#000" textLength="76" lengthAdjust="spacingAndGlyphs" transform="rotate(-90 538.7 583.5)">Fold change</text>
<text x="553.8" y="583.5" font-size="12.5" text-anchor="middle" font-weight="bold" fill="#000" textLength="117.5" lengthAdjust="spacingAndGlyphs" transform="rotate(-90 553.8 583.5)">(relative to control)</text>
<line x1="580.9" y1="624.08" x2="580.9" y2="623.58" stroke="#444" stroke-width="1" stroke-linecap="butt"/>
<line x1="578.6" y1="623.58" x2="583.2" y2="623.58" stroke="#444" stroke-width="1" stroke-linecap="butt"/>
<rect x="577.05" y="624.83" width="7.7" height="9.47" fill="#c2b97c" stroke="#1a1a1a" stroke-width="1.5"/>
<line x1="595.3" y1="623.56" x2="595.3" y2="623.06" stroke="#444" stroke-width="1" stroke-linecap="butt"/>
<line x1="593" y1="623.06" x2="597.6" y2="623.06" stroke="#444" stroke-width="1" stroke-linecap="butt"/>
<rect x="591.45" y="624.31" width="7.7" height="9.99" fill="#f39aa2" stroke="#1a1a1a" stroke-width="1.5"/>
<line x1="609.7" y1="619.7" x2="609.7" y2="618.7" stroke="#444" stroke-width="1" stroke-linecap="butt"/>
<line x1="607.4" y1="618.7" x2="612" y2="618.7" stroke="#444" stroke-width="1" stroke-linecap="butt"/>
<rect x="605.85" y="620.45" width="7.7" height="13.85" fill="#f2b677" stroke="#1a1a1a" stroke-width="1.5"/>
<line x1="624.1" y1="609.27" x2="624.1" y2="607.27" stroke="#444" stroke-width="1" stroke-linecap="butt"/>
<line x1="621.8" y1="607.27" x2="626.4" y2="607.27" stroke="#444" stroke-width="1" stroke-linecap="butt"/>
<rect x="620.25" y="610.02" width="7.7" height="24.28" fill="#f2f9c2" stroke="#1a1a1a" stroke-width="1.5"/>
<line x1="638.5" y1="594.14" x2="638.5" y2="593.14" stroke="#444" stroke-width="1" stroke-linecap="butt"/>
<line x1="636.2" y1="593.14" x2="640.8" y2="593.14" stroke="#444" stroke-width="1" stroke-linecap="butt"/>
<rect x="634.65" y="594.89" width="7.7" height="39.41" fill="#a8f3a1" stroke="#1a1a1a" stroke-width="1.5"/>
<line x1="652.9" y1="581.11" x2="652.9" y2="579.11" stroke="#444" stroke-width="1" stroke-linecap="butt"/>
<line x1="650.6" y1="579.11" x2="655.2" y2="579.11" stroke="#444" stroke-width="1" stroke-linecap="butt"/>
<rect x="649.05" y="581.86" width="7.7" height="52.44" fill="#95c5f2" stroke="#1a1a1a" stroke-width="1.5"/>
<line x1="667.3" y1="543.56" x2="667.3" y2="537.56" stroke="#444" stroke-width="1" stroke-linecap="butt"/>
<line x1="665" y1="537.56" x2="669.6" y2="537.56" stroke="#444" stroke-width="1" stroke-linecap="butt"/>
<rect x="663.45" y="544.31" width="7.7" height="89.99" fill="#dc8df5" stroke="#1a1a1a" stroke-width="1.5"/>
<line x1="580.9" y1="634.3" x2="580.9" y2="638.6" stroke="#000" stroke-width="1.1" stroke-linecap="butt"/>
<line x1="595.3" y1="634.3" x2="595.3" y2="638.6" stroke="#000" stroke-width="1.1" stroke-linecap="butt"/>
<line x1="609.7" y1="634.3" x2="609.7" y2="638.6" stroke="#000" stroke-width="1.1" stroke-linecap="butt"/>
<line x1="624.1" y1="634.3" x2="624.1" y2="638.6" stroke="#000" stroke-width="1.1" stroke-linecap="butt"/>
<line x1="638.5" y1="634.3" x2="638.5" y2="638.6" stroke="#000" stroke-width="1.1" stroke-linecap="butt"/>
<line x1="652.9" y1="634.3" x2="652.9" y2="638.6" stroke="#000" stroke-width="1.1" stroke-linecap="butt"/>
<line x1="667.3" y1="634.3" x2="667.3" y2="638.6" stroke="#000" stroke-width="1.1" stroke-linecap="butt"/>
<line x1="571.7" y1="529.2" x2="571.7" y2="635.1" stroke="#000" stroke-width="1.6" stroke-linecap="butt"/>
<line x1="570.9" y1="634.3" x2="676" y2="634.3" stroke="#000" stroke-width="1.6" stroke-linecap="butt"/>
<line x1="567.3" y1="634.3" x2="571.7" y2="634.3" stroke="#000" stroke-width="1.6" stroke-linecap="butt"/>
<text x="566.1" y="637.2" font-size="8.2" text-anchor="end" font-weight="bold" fill="#000">0</text>
<line x1="567.3" y1="613.44" x2="571.7" y2="613.44" stroke="#000" stroke-width="1.6" stroke-linecap="butt"/>
<text x="566.1" y="616.34" font-size="8.2" text-anchor="end" font-weight="bold" fill="#000">2</text>
<line x1="567.3" y1="592.58" x2="571.7" y2="592.58" stroke="#000" stroke-width="1.6" stroke-linecap="butt"/>
<text x="566.1" y="595.48" font-size="8.2" text-anchor="end" font-weight="bold" fill="#000">4</text>
<line x1="567.3" y1="571.72" x2="571.7" y2="571.72" stroke="#000" stroke-width="1.6" stroke-linecap="butt"/>
<text x="566.1" y="574.62" font-size="8.2" text-anchor="end" font-weight="bold" fill="#000">6</text>
<line x1="567.3" y1="550.86" x2="571.7" y2="550.86" stroke="#000" stroke-width="1.6" stroke-linecap="butt"/>
<text x="566.1" y="553.76" font-size="8.2" text-anchor="end" font-weight="bold" fill="#000">8</text>
<line x1="567.3" y1="530" x2="571.7" y2="530" stroke="#000" stroke-width="1.6" stroke-linecap="butt"/>
<text x="566.1" y="532.9" font-size="8.2" text-anchor="end" font-weight="bold" fill="#000">10</text>
<line x1="616.7" y1="533.9" x2="668.4" y2="533.9" stroke="#000" stroke-width="2.2" stroke-linecap="butt"/>
<text x="631.43" y="536.29" font-size="17.55" text-anchor="middle" font-weight="bold" fill="#000">*</text>
<text x="639.5" y="536.29" font-size="17.55" text-anchor="middle" font-weight="bold" fill="#000">*</text>
<text x="647.57" y="536.29" font-size="17.55" text-anchor="middle" font-weight="bold" fill="#000">*</text>
<path d="M581.7 567.3 V561.6 Q581.7 558.6 584.7 558.6 H614.7 Q616.7 558.6 616.7 550.2 Q616.7 558.6 618.7 558.6 H647.8 Q650.8 558.6 650.8 561.6 V567.3" fill="none" stroke="#000" stroke-width="1.5" stroke-linejoin="round"/>
<text x="579.1" y="654" font-size="12" text-anchor="middle" font-weight="bold" fill="#000">A</text>
<text x="594.3" y="654" font-size="12" text-anchor="middle" font-weight="bold" fill="#000">B</text>
<text x="609.3" y="654" font-size="12" text-anchor="middle" font-weight="bold" fill="#000">C</text>
<text x="623.8" y="654" font-size="12" text-anchor="middle" font-weight="bold" fill="#000">D</text>
<text x="639.5" y="654" font-size="12" text-anchor="middle" font-weight="bold" fill="#000">E</text>
<text x="653.4" y="654" font-size="12" text-anchor="middle" font-weight="bold" fill="#000">F</text>
<text x="667.9" y="654" font-size="12" text-anchor="middle" font-weight="bold" fill="#000">G</text>
<text transform="translate(12.2 664.9) scale(1 1.03)" x="0" y="0" font-size="21" font-weight="bold">I</text>
<text x="28.75" y="727.2" font-size="12.5" text-anchor="middle" font-weight="bold" fill="#000" textLength="79.4" lengthAdjust="spacingAndGlyphs" transform="rotate(-90 28.75 727.2)">IFN-&#946; (pg/ml)</text>
<line x1="70.6" y1="766.53" x2="70.6" y2="763.53" stroke="#444" stroke-width="1" stroke-linecap="butt"/>
<line x1="68.3" y1="763.53" x2="72.9" y2="763.53" stroke="#444" stroke-width="1" stroke-linecap="butt"/>
<rect x="66.75" y="767.28" width="7.7" height="10.32" fill="#c2b97c" stroke="#1a1a1a" stroke-width="1.5"/>
<line x1="84.8" y1="764.93" x2="84.8" y2="761.43" stroke="#444" stroke-width="1" stroke-linecap="butt"/>
<line x1="82.5" y1="761.43" x2="87.1" y2="761.43" stroke="#444" stroke-width="1" stroke-linecap="butt"/>
<rect x="80.95" y="765.68" width="7.7" height="11.92" fill="#f39aa2" stroke="#1a1a1a" stroke-width="1.5"/>
<line x1="99" y1="760.64" x2="99" y2="758.64" stroke="#444" stroke-width="1" stroke-linecap="butt"/>
<line x1="96.7" y1="758.64" x2="101.3" y2="758.64" stroke="#444" stroke-width="1" stroke-linecap="butt"/>
<rect x="95.15" y="761.39" width="7.7" height="16.21" fill="#f2b677" stroke="#1a1a1a" stroke-width="1.5"/>
<line x1="113.2" y1="749.4" x2="113.2" y2="746.9" stroke="#444" stroke-width="1" stroke-linecap="butt"/>
<line x1="110.9" y1="746.9" x2="115.5" y2="746.9" stroke="#444" stroke-width="1" stroke-linecap="butt"/>
<rect x="109.35" y="750.15" width="7.7" height="27.45" fill="#f2f9c2" stroke="#1a1a1a" stroke-width="1.5"/>
<line x1="127.4" y1="742.26" x2="127.4" y2="739.76" stroke="#444" stroke-width="1" stroke-linecap="butt"/>
<line x1="125.1" y1="739.76" x2="129.7" y2="739.76" stroke="#444" stroke-width="1" stroke-linecap="butt"/>
<rect x="123.55" y="743.01" width="7.7" height="34.59" fill="#a8f3a1" stroke="#1a1a1a" stroke-width="1.5"/>
<line x1="141.6" y1="716.91" x2="141.6" y2="711.91" stroke="#444" stroke-width="1" stroke-linecap="butt"/>
<line x1="139.3" y1="711.91" x2="143.9" y2="711.91" stroke="#444" stroke-width="1" stroke-linecap="butt"/>
<rect x="137.75" y="717.66" width="7.7" height="59.94" fill="#95c5f2" stroke="#1a1a1a" stroke-width="1.5"/>
<line x1="155.8" y1="685.32" x2="155.8" y2="680.32" stroke="#444" stroke-width="1" stroke-linecap="butt"/>
<line x1="153.5" y1="680.32" x2="158.1" y2="680.32" stroke="#444" stroke-width="1" stroke-linecap="butt"/>
<rect x="151.95" y="686.07" width="7.7" height="91.53" fill="#dc8df5" stroke="#1a1a1a" stroke-width="1.5"/>
<line x1="70.6" y1="777.6" x2="70.6" y2="781.9" stroke="#000" stroke-width="1.1" stroke-linecap="butt"/>
<line x1="84.8" y1="777.6" x2="84.8" y2="781.9" stroke="#000" stroke-width="1.1" stroke-linecap="butt"/>
<line x1="99" y1="777.6" x2="99" y2="781.9" stroke="#000" stroke-width="1.1" stroke-linecap="butt"/>
<line x1="113.2" y1="777.6" x2="113.2" y2="781.9" stroke="#000" stroke-width="1.1" stroke-linecap="butt"/>
<line x1="127.4" y1="777.6" x2="127.4" y2="781.9" stroke="#000" stroke-width="1.1" stroke-linecap="butt"/>
<line x1="141.6" y1="777.6" x2="141.6" y2="781.9" stroke="#000" stroke-width="1.1" stroke-linecap="butt"/>
<line x1="155.8" y1="777.6" x2="155.8" y2="781.9" stroke="#000" stroke-width="1.1" stroke-linecap="butt"/>
<line x1="61" y1="669.4" x2="61" y2="778.4" stroke="#000" stroke-width="1.6" stroke-linecap="butt"/>
<line x1="60.2" y1="777.6" x2="165.7" y2="777.6" stroke="#000" stroke-width="1.6" stroke-linecap="butt"/>
<line x1="56.6" y1="777.6" x2="61" y2="777.6" stroke="#000" stroke-width="1.6" stroke-linecap="butt"/>
<text x="55.4" y="780.57" font-size="8.4" text-anchor="end" font-weight="bold" fill="#000">0</text>
<line x1="56.6" y1="741.9" x2="61" y2="741.9" stroke="#000" stroke-width="1.6" stroke-linecap="butt"/>
<text x="55.4" y="744.87" font-size="8.4" text-anchor="end" font-weight="bold" fill="#000" textLength="13.2" lengthAdjust="spacingAndGlyphs">200</text>
<line x1="56.6" y1="706.2" x2="61" y2="706.2" stroke="#000" stroke-width="1.6" stroke-linecap="butt"/>
<text x="55.4" y="709.17" font-size="8.4" text-anchor="end" font-weight="bold" fill="#000" textLength="13.2" lengthAdjust="spacingAndGlyphs">400</text>
<line x1="56.6" y1="670.5" x2="61" y2="670.5" stroke="#000" stroke-width="1.6" stroke-linecap="butt"/>
<text x="55.4" y="673.47" font-size="8.4" text-anchor="end" font-weight="bold" fill="#000" textLength="13.2" lengthAdjust="spacingAndGlyphs">600</text>
<line x1="108.2" y1="672.8" x2="152.9" y2="672.8" stroke="#000" stroke-width="2.2" stroke-linecap="butt"/>
<text x="120.63" y="675.99" font-size="17.55" text-anchor="middle" font-weight="bold" fill="#000">*</text>
<text x="128.7" y="675.99" font-size="17.55" text-anchor="middle" font-weight="bold" fill="#000">*</text>
<text x="136.77" y="675.99" font-size="17.55" text-anchor="middle" font-weight="bold" fill="#000">*</text>
<path d="M70.9 706.8 V700.3 Q70.9 697.3 73.9 697.3 H105.2 Q107.2 697.3 107.2 689 Q107.2 697.3 109.2 697.3 H140.7 Q143.7 697.3 143.7 700.3 V706.8" fill="none" stroke="#000" stroke-width="1.5" stroke-linejoin="round"/>
<text x="67" y="797.6" font-size="12" text-anchor="middle" font-weight="bold" fill="#000">A</text>
<text x="82" y="797.6" font-size="12" text-anchor="middle" font-weight="bold" fill="#000">B</text>
<text x="97.2" y="797.6" font-size="12" text-anchor="middle" font-weight="bold" fill="#000">C</text>
<text x="111.7" y="797.6" font-size="12" text-anchor="middle" font-weight="bold" fill="#000">D</text>
<text x="127.4" y="797.6" font-size="12" text-anchor="middle" font-weight="bold" fill="#000">E</text>
<text x="141.1" y="797.6" font-size="12" text-anchor="middle" font-weight="bold" fill="#000">F</text>
<text x="155.5" y="797.6" font-size="12" text-anchor="middle" font-weight="bold" fill="#000">G</text>
<text transform="translate(186.09 663.5) scale(1 1.07)" x="0" y="0" font-size="20.6" font-weight="bold">J</text>
<text x="200" y="729.7" font-size="12.5" text-anchor="middle" font-weight="bold" fill="#000" textLength="89.4" lengthAdjust="spacingAndGlyphs" transform="rotate(-90 200 729.7)">CXCL9 (pg/ml)</text>
<line x1="234.8" y1="768.4" x2="234.8" y2="765.9" stroke="#444" stroke-width="1" stroke-linecap="butt"/>
<line x1="232.45" y1="765.9" x2="237.15" y2="765.9" stroke="#444" stroke-width="1" stroke-linecap="butt"/>
<rect x="230.85" y="769.15" width="7.9" height="8.25" fill="#c2b97c" stroke="#1a1a1a" stroke-width="1.5"/>
<line x1="249.2" y1="767.12" x2="249.2" y2="765.62" stroke="#444" stroke-width="1" stroke-linecap="butt"/>
<line x1="246.85" y1="765.62" x2="251.55" y2="765.62" stroke="#444" stroke-width="1" stroke-linecap="butt"/>
<rect x="245.25" y="767.87" width="7.9" height="9.53" fill="#f39aa2" stroke="#1a1a1a" stroke-width="1.5"/>
<line x1="263.6" y1="761.76" x2="263.6" y2="759.76" stroke="#444" stroke-width="1" stroke-linecap="butt"/>
<line x1="261.25" y1="759.76" x2="265.95" y2="759.76" stroke="#444" stroke-width="1" stroke-linecap="butt"/>
<rect x="259.65" y="762.51" width="7.9" height="14.89" fill="#f2b677" stroke="#1a1a1a" stroke-width="1.5"/>
<line x1="278" y1="761.76" x2="278" y2="758.76" stroke="#444" stroke-width="1" stroke-linecap="butt"/>
<line x1="275.65" y1="758.76" x2="280.35" y2="758.76" stroke="#444" stroke-width="1" stroke-linecap="butt"/>
<rect x="274.05" y="762.51" width="7.9" height="14.89" fill="#f2f9c2" stroke="#1a1a1a" stroke-width="1.5"/>
<line x1="292.4" y1="748.27" x2="292.4" y2="745.27" stroke="#444" stroke-width="1" stroke-linecap="butt"/>
<line x1="290.05" y1="745.27" x2="294.75" y2="745.27" stroke="#444" stroke-width="1" stroke-linecap="butt"/>
<rect x="288.45" y="749.02" width="7.9" height="28.38" fill="#a8f3a1" stroke="#1a1a1a" stroke-width="1.5"/>
<line x1="306.8" y1="726.42" x2="306.8" y2="722.42" stroke="#444" stroke-width="1" stroke-linecap="butt"/>
<line x1="304.45" y1="722.42" x2="309.15" y2="722.42" stroke="#444" stroke-width="1" stroke-linecap="butt"/>
<rect x="302.85" y="727.17" width="7.9" height="50.23" fill="#95c5f2" stroke="#1a1a1a" stroke-width="1.5"/>
<line x1="321.2" y1="702" x2="321.2" y2="694" stroke="#444" stroke-width="1" stroke-linecap="butt"/>
<line x1="318.85" y1="694" x2="323.55" y2="694" stroke="#444" stroke-width="1" stroke-linecap="butt"/>
<rect x="317.25" y="702.75" width="7.9" height="74.65" fill="#dc8df5" stroke="#1a1a1a" stroke-width="1.5"/>
<line x1="234.8" y1="777.4" x2="234.8" y2="781.7" stroke="#000" stroke-width="1.1" stroke-linecap="butt"/>
<line x1="249.2" y1="777.4" x2="249.2" y2="781.7" stroke="#000" stroke-width="1.1" stroke-linecap="butt"/>
<line x1="263.6" y1="777.4" x2="263.6" y2="781.7" stroke="#000" stroke-width="1.1" stroke-linecap="butt"/>
<line x1="278" y1="777.4" x2="278" y2="781.7" stroke="#000" stroke-width="1.1" stroke-linecap="butt"/>
<line x1="292.4" y1="777.4" x2="292.4" y2="781.7" stroke="#000" stroke-width="1.1" stroke-linecap="butt"/>
<line x1="306.8" y1="777.4" x2="306.8" y2="781.7" stroke="#000" stroke-width="1.1" stroke-linecap="butt"/>
<line x1="321.2" y1="777.4" x2="321.2" y2="781.7" stroke="#000" stroke-width="1.1" stroke-linecap="butt"/>
<line x1="225.5" y1="669.5" x2="225.5" y2="778.2" stroke="#000" stroke-width="1.6" stroke-linecap="butt"/>
<line x1="224.7" y1="777.4" x2="330.7" y2="777.4" stroke="#000" stroke-width="1.6" stroke-linecap="butt"/>
<line x1="221.1" y1="777.4" x2="225.5" y2="777.4" stroke="#000" stroke-width="1.6" stroke-linecap="butt"/>
<text x="219.9" y="780.37" font-size="8.4" text-anchor="end" font-weight="bold" fill="#000">0</text>
<line x1="221.1" y1="755.98" x2="225.5" y2="755.98" stroke="#000" stroke-width="1.6" stroke-linecap="butt"/>
<text x="219.9" y="758.95" font-size="8.4" text-anchor="end" font-weight="bold" fill="#000" textLength="13.2" lengthAdjust="spacingAndGlyphs">100</text>
<line x1="221.1" y1="734.56" x2="225.5" y2="734.56" stroke="#000" stroke-width="1.6" stroke-linecap="butt"/>
<text x="219.9" y="737.53" font-size="8.4" text-anchor="end" font-weight="bold" fill="#000" textLength="13.2" lengthAdjust="spacingAndGlyphs">200</text>
<line x1="221.1" y1="713.14" x2="225.5" y2="713.14" stroke="#000" stroke-width="1.6" stroke-linecap="butt"/>
<text x="219.9" y="716.11" font-size="8.4" text-anchor="end" font-weight="bold" fill="#000" textLength="13.2" lengthAdjust="spacingAndGlyphs">300</text>
<line x1="221.1" y1="691.72" x2="225.5" y2="691.72" stroke="#000" stroke-width="1.6" stroke-linecap="butt"/>
<text x="219.9" y="694.69" font-size="8.4" text-anchor="end" font-weight="bold" fill="#000" textLength="13.2" lengthAdjust="spacingAndGlyphs">400</text>
<line x1="221.1" y1="670.3" x2="225.5" y2="670.3" stroke="#000" stroke-width="1.6" stroke-linecap="butt"/>
<text x="219.9" y="673.27" font-size="8.4" text-anchor="end" font-weight="bold" fill="#000" textLength="13.2" lengthAdjust="spacingAndGlyphs">500</text>
<line x1="275.5" y1="680.2" x2="321.9" y2="680.2" stroke="#000" stroke-width="2.2" stroke-linecap="butt"/>
<text x="288.53" y="682.99" font-size="17.55" text-anchor="middle" font-weight="bold" fill="#000">*</text>
<text x="296.6" y="682.99" font-size="17.55" text-anchor="middle" font-weight="bold" fill="#000">*</text>
<text x="304.67" y="682.99" font-size="17.55" text-anchor="middle" font-weight="bold" fill="#000">*</text>
<path d="M237 714 V708 Q237 705 240 705 H268.5 Q270.5 705 270.5 697.1 Q270.5 705 272.5 705 H301 Q304 705 304 708 V714" fill="none" stroke="#000" stroke-width="1.5" stroke-linejoin="round"/>
<text x="233.3" y="798.4" font-size="12" text-anchor="middle" font-weight="bold" fill="#000">A</text>
<text x="248.9" y="798.4" font-size="12" text-anchor="middle" font-weight="bold" fill="#000">B</text>
<text x="263.8" y="798.4" font-size="12" text-anchor="middle" font-weight="bold" fill="#000">C</text>
<text x="278" y="798.4" font-size="12" text-anchor="middle" font-weight="bold" fill="#000">D</text>
<text x="292.9" y="798.4" font-size="12" text-anchor="middle" font-weight="bold" fill="#000">E</text>
<text x="306.5" y="798.4" font-size="12" text-anchor="middle" font-weight="bold" fill="#000">F</text>
<text x="321.9" y="798.4" font-size="12" text-anchor="middle" font-weight="bold" fill="#000">G</text>
<text transform="translate(352.2 661.6) scale(1 1.1)" x="0" y="0" font-size="20.9" font-weight="bold">K</text>
<text x="368.6" y="730.4" font-size="12.5" text-anchor="middle" font-weight="bold" fill="#000" textLength="95.5" lengthAdjust="spacingAndGlyphs" transform="rotate(-90 368.6 730.4)">CXCL10 (pg/ml)</text>
<line x1="407.2" y1="754.04" x2="407.2" y2="751.04" stroke="#444" stroke-width="1" stroke-linecap="butt"/>
<line x1="404.8" y1="751.04" x2="409.6" y2="751.04" stroke="#444" stroke-width="1" stroke-linecap="butt"/>
<rect x="403.15" y="754.79" width="8.1" height="21.71" fill="#c2b97c" stroke="#1a1a1a" stroke-width="1.5"/>
<line x1="422.6" y1="752.83" x2="422.6" y2="749.83" stroke="#444" stroke-width="1" stroke-linecap="butt"/>
<line x1="420.2" y1="749.83" x2="425" y2="749.83" stroke="#444" stroke-width="1" stroke-linecap="butt"/>
<rect x="418.55" y="753.58" width="8.1" height="22.92" fill="#f39aa2" stroke="#1a1a1a" stroke-width="1.5"/>
<line x1="438" y1="740.73" x2="438" y2="737.73" stroke="#444" stroke-width="1" stroke-linecap="butt"/>
<line x1="435.6" y1="737.73" x2="440.4" y2="737.73" stroke="#444" stroke-width="1" stroke-linecap="butt"/>
<rect x="433.95" y="741.48" width="8.1" height="35.02" fill="#f2b677" stroke="#1a1a1a" stroke-width="1.5"/>
<line x1="453.4" y1="740.21" x2="453.4" y2="737.21" stroke="#444" stroke-width="1" stroke-linecap="butt"/>
<line x1="451" y1="737.21" x2="455.8" y2="737.21" stroke="#444" stroke-width="1" stroke-linecap="butt"/>
<rect x="449.35" y="740.96" width="8.1" height="35.54" fill="#f2f9c2" stroke="#1a1a1a" stroke-width="1.5"/>
<line x1="468.8" y1="728.98" x2="468.8" y2="725.98" stroke="#444" stroke-width="1" stroke-linecap="butt"/>
<line x1="466.4" y1="725.98" x2="471.2" y2="725.98" stroke="#444" stroke-width="1" stroke-linecap="butt"/>
<rect x="464.75" y="729.73" width="8.1" height="46.77" fill="#a8f3a1" stroke="#1a1a1a" stroke-width="1.5"/>
<line x1="484.2" y1="716.88" x2="484.2" y2="713.38" stroke="#444" stroke-width="1" stroke-linecap="butt"/>
<line x1="481.8" y1="713.38" x2="486.6" y2="713.38" stroke="#444" stroke-width="1" stroke-linecap="butt"/>
<rect x="480.15" y="717.63" width="8.1" height="58.87" fill="#95c5f2" stroke="#1a1a1a" stroke-width="1.5"/>
<line x1="499.6" y1="687.51" x2="499.6" y2="683.51" stroke="#444" stroke-width="1" stroke-linecap="butt"/>
<line x1="497.2" y1="683.51" x2="502" y2="683.51" stroke="#444" stroke-width="1" stroke-linecap="butt"/>
<rect x="495.55" y="688.26" width="8.1" height="88.24" fill="#dc8df5" stroke="#1a1a1a" stroke-width="1.5"/>
<line x1="407.2" y1="776.5" x2="407.2" y2="780.8" stroke="#000" stroke-width="1.1" stroke-linecap="butt"/>
<line x1="422.6" y1="776.5" x2="422.6" y2="780.8" stroke="#000" stroke-width="1.1" stroke-linecap="butt"/>
<line x1="438" y1="776.5" x2="438" y2="780.8" stroke="#000" stroke-width="1.1" stroke-linecap="butt"/>
<line x1="453.4" y1="776.5" x2="453.4" y2="780.8" stroke="#000" stroke-width="1.1" stroke-linecap="butt"/>
<line x1="468.8" y1="776.5" x2="468.8" y2="780.8" stroke="#000" stroke-width="1.1" stroke-linecap="butt"/>
<line x1="484.2" y1="776.5" x2="484.2" y2="780.8" stroke="#000" stroke-width="1.1" stroke-linecap="butt"/>
<line x1="499.6" y1="776.5" x2="499.6" y2="780.8" stroke="#000" stroke-width="1.1" stroke-linecap="butt"/>
<line x1="397.3" y1="672" x2="397.3" y2="777.3" stroke="#000" stroke-width="1.6" stroke-linecap="butt"/>
<line x1="396.5" y1="776.5" x2="510" y2="776.5" stroke="#000" stroke-width="1.6" stroke-linecap="butt"/>
<line x1="392.9" y1="776.5" x2="397.3" y2="776.5" stroke="#000" stroke-width="1.6" stroke-linecap="butt"/>
<text x="391.4" y="779.47" font-size="8.4" text-anchor="end" font-weight="bold" fill="#000">0</text>
<line x1="392.9" y1="741.94" x2="397.3" y2="741.94" stroke="#000" stroke-width="1.6" stroke-linecap="butt"/>
<text x="391.4" y="744.91" font-size="8.4" text-anchor="end" font-weight="bold" fill="#000" textLength="13.2" lengthAdjust="spacingAndGlyphs">200</text>
<line x1="392.9" y1="707.38" x2="397.3" y2="707.38" stroke="#000" stroke-width="1.6" stroke-linecap="butt"/>
<text x="391.4" y="710.35" font-size="8.4" text-anchor="end" font-weight="bold" fill="#000" textLength="13.2" lengthAdjust="spacingAndGlyphs">400</text>
<line x1="392.9" y1="672.82" x2="397.3" y2="672.82" stroke="#000" stroke-width="1.6" stroke-linecap="butt"/>
<text x="391.4" y="675.79" font-size="8.4" text-anchor="end" font-weight="bold" fill="#000" textLength="13.2" lengthAdjust="spacingAndGlyphs">600</text>
<line x1="440.5" y1="674.7" x2="485.9" y2="674.7" stroke="#000" stroke-width="2.2" stroke-linecap="butt"/>
<text x="455.93" y="676.79" font-size="17.55" text-anchor="middle" font-weight="bold" fill="#000">*</text>
<text x="464" y="676.79" font-size="17.55" text-anchor="middle" font-weight="bold" fill="#000">*</text>
<text x="472.07" y="676.79" font-size="17.55" text-anchor="middle" font-weight="bold" fill="#000">*</text>
<path d="M407 705 V699.6 Q407 696.6 410 696.6 H440.5 Q442.5 696.6 442.5 687.9 Q442.5 696.6 444.5 696.6 H474.7 Q477.7 696.6 477.7 699.6 V705" fill="none" stroke="#000" stroke-width="1.5" stroke-linejoin="round"/>
<text x="407" y="797.6" font-size="12" text-anchor="middle" font-weight="bold" fill="#000">A</text>
<text x="421.4" y="797.6" font-size="12" text-anchor="middle" font-weight="bold" fill="#000">B</text>
<text x="438" y="797.6" font-size="12" text-anchor="middle" font-weight="bold" fill="#000">C</text>
<text x="453.6" y="797.6" font-size="12" text-anchor="middle" font-weight="bold" fill="#000">D</text>
<text x="468.5" y="797.6" font-size="12" text-anchor="middle" font-weight="bold" fill="#000">E</text>
<text x="483.4" y="797.6" font-size="12" text-anchor="middle" font-weight="bold" fill="#000">F</text>
<text x="498.8" y="797.6" font-size="12" text-anchor="middle" font-weight="bold" fill="#000">G</text>
<text transform="translate(524.42 660.7) scale(1 1.09)" x="0" y="0" font-size="20.6" font-weight="bold">L</text>
<text x="544.4" y="729" font-size="12.5" text-anchor="middle" font-weight="bold" fill="#000" textLength="83" lengthAdjust="spacingAndGlyphs" transform="rotate(-90 544.4 729)">TNF-&#945; (pg/ml)</text>
<line x1="582.9" y1="767.62" x2="582.9" y2="764.62" stroke="#444" stroke-width="1" stroke-linecap="butt"/>
<line x1="580.65" y1="764.62" x2="585.15" y2="764.62" stroke="#444" stroke-width="1" stroke-linecap="butt"/>
<rect x="579.15" y="768.37" width="7.5" height="10.33" fill="#c2b97c" stroke="#1a1a1a" stroke-width="1.5"/>
<line x1="597.05" y1="764.49" x2="597.05" y2="761.49" stroke="#444" stroke-width="1" stroke-linecap="butt"/>
<line x1="594.8" y1="761.49" x2="599.3" y2="761.49" stroke="#444" stroke-width="1" stroke-linecap="butt"/>
<rect x="593.3" y="765.24" width="7.5" height="13.46" fill="#f39aa2" stroke="#1a1a1a" stroke-width="1.5"/>
<line x1="611.2" y1="758.43" x2="611.2" y2="755.93" stroke="#444" stroke-width="1" stroke-linecap="butt"/>
<line x1="608.95" y1="755.93" x2="613.45" y2="755.93" stroke="#444" stroke-width="1" stroke-linecap="butt"/>
<rect x="607.45" y="759.18" width="7.5" height="19.52" fill="#f2b677" stroke="#1a1a1a" stroke-width="1.5"/>
<line x1="625.35" y1="755.29" x2="625.35" y2="752.79" stroke="#444" stroke-width="1" stroke-linecap="butt"/>
<line x1="623.1" y1="752.79" x2="627.6" y2="752.79" stroke="#444" stroke-width="1" stroke-linecap="butt"/>
<rect x="621.6" y="756.04" width="7.5" height="22.66" fill="#f2f9c2" stroke="#1a1a1a" stroke-width="1.5"/>
<line x1="639.5" y1="741.71" x2="639.5" y2="738.71" stroke="#444" stroke-width="1" stroke-linecap="butt"/>
<line x1="637.25" y1="738.71" x2="641.75" y2="738.71" stroke="#444" stroke-width="1" stroke-linecap="butt"/>
<rect x="635.75" y="742.46" width="7.5" height="36.24" fill="#a8f3a1" stroke="#1a1a1a" stroke-width="1.5"/>
<line x1="653.65" y1="716.42" x2="653.65" y2="714.42" stroke="#444" stroke-width="1" stroke-linecap="butt"/>
<line x1="651.4" y1="714.42" x2="655.9" y2="714.42" stroke="#444" stroke-width="1" stroke-linecap="butt"/>
<rect x="649.9" y="717.17" width="7.5" height="61.53" fill="#95c5f2" stroke="#1a1a1a" stroke-width="1.5"/>
<line x1="667.8" y1="688.41" x2="667.8" y2="683.41" stroke="#444" stroke-width="1" stroke-linecap="butt"/>
<line x1="665.55" y1="683.41" x2="670.05" y2="683.41" stroke="#444" stroke-width="1" stroke-linecap="butt"/>
<rect x="664.05" y="689.16" width="7.5" height="89.54" fill="#dc8df5" stroke="#1a1a1a" stroke-width="1.5"/>
<line x1="582.9" y1="778.7" x2="582.9" y2="783" stroke="#000" stroke-width="1.1" stroke-linecap="butt"/>
<line x1="597.05" y1="778.7" x2="597.05" y2="783" stroke="#000" stroke-width="1.1" stroke-linecap="butt"/>
<line x1="611.2" y1="778.7" x2="611.2" y2="783" stroke="#000" stroke-width="1.1" stroke-linecap="butt"/>
<line x1="625.35" y1="778.7" x2="625.35" y2="783" stroke="#000" stroke-width="1.1" stroke-linecap="butt"/>
<line x1="639.5" y1="778.7" x2="639.5" y2="783" stroke="#000" stroke-width="1.1" stroke-linecap="butt"/>
<line x1="653.65" y1="778.7" x2="653.65" y2="783" stroke="#000" stroke-width="1.1" stroke-linecap="butt"/>
<line x1="667.8" y1="778.7" x2="667.8" y2="783" stroke="#000" stroke-width="1.1" stroke-linecap="butt"/>
<line x1="573.8" y1="673.4" x2="573.8" y2="779.5" stroke="#000" stroke-width="1.6" stroke-linecap="butt"/>
<line x1="573" y1="778.7" x2="678.6" y2="778.7" stroke="#000" stroke-width="1.6" stroke-linecap="butt"/>
<line x1="569.4" y1="778.7" x2="573.8" y2="778.7" stroke="#000" stroke-width="1.6" stroke-linecap="butt"/>
<text x="568.2" y="781.67" font-size="8.4" text-anchor="end" font-weight="bold" fill="#000">0</text>
<line x1="569.4" y1="757.8" x2="573.8" y2="757.8" stroke="#000" stroke-width="1.6" stroke-linecap="butt"/>
<text x="568.2" y="760.77" font-size="8.4" text-anchor="end" font-weight="bold" fill="#000" textLength="13.2" lengthAdjust="spacingAndGlyphs">100</text>
<line x1="569.4" y1="736.9" x2="573.8" y2="736.9" stroke="#000" stroke-width="1.6" stroke-linecap="butt"/>
<text x="568.2" y="739.87" font-size="8.4" text-anchor="end" font-weight="bold" fill="#000" textLength="13.2" lengthAdjust="spacingAndGlyphs">200</text>
<line x1="569.4" y1="716" x2="573.8" y2="716" stroke="#000" stroke-width="1.6" stroke-linecap="butt"/>
<text x="568.2" y="718.97" font-size="8.4" text-anchor="end" font-weight="bold" fill="#000" textLength="13.2" lengthAdjust="spacingAndGlyphs">300</text>
<line x1="569.4" y1="695.1" x2="573.8" y2="695.1" stroke="#000" stroke-width="1.6" stroke-linecap="butt"/>
<text x="568.2" y="698.07" font-size="8.4" text-anchor="end" font-weight="bold" fill="#000" textLength="13.2" lengthAdjust="spacingAndGlyphs">400</text>
<line x1="569.4" y1="674.2" x2="573.8" y2="674.2" stroke="#000" stroke-width="1.6" stroke-linecap="butt"/>
<text x="568.2" y="677.17" font-size="8.4" text-anchor="end" font-weight="bold" fill="#000" textLength="13.2" lengthAdjust="spacingAndGlyphs">500</text>
<line x1="618.5" y1="673.1" x2="671.8" y2="673.1" stroke="#000" stroke-width="2.2" stroke-linecap="butt"/>
<text x="636.23" y="675.19" font-size="17.55" text-anchor="middle" font-weight="bold" fill="#000">*</text>
<text x="644.3" y="675.19" font-size="17.55" text-anchor="middle" font-weight="bold" fill="#000">*</text>
<text x="652.37" y="675.19" font-size="17.55" text-anchor="middle" font-weight="bold" fill="#000">*</text>
<path d="M585.1 707 V701.3 Q585.1 698.3 588.1 698.3 H614.1 Q616.1 698.3 616.1 689.4 Q616.1 698.3 618.1 698.3 H643.9 Q646.9 698.3 646.9 701.3 V707" fill="none" stroke="#000" stroke-width="1.5" stroke-linejoin="round"/>
<text x="579.9" y="797.6" font-size="12" text-anchor="middle" font-weight="bold" fill="#000">A</text>
<text x="594.3" y="797.6" font-size="12" text-anchor="middle" font-weight="bold" fill="#000">B</text>
<text x="609.3" y="797.6" font-size="12" text-anchor="middle" font-weight="bold" fill="#000">C</text>
<text x="623.8" y="797.6" font-size="12" text-anchor="middle" font-weight="bold" fill="#000">D</text>
<text x="639.5" y="797.6" font-size="12" text-anchor="middle" font-weight="bold" fill="#000">E</text>
<text x="653.4" y="797.6" font-size="12" text-anchor="middle" font-weight="bold" fill="#000">F</text>
<text x="667.9" y="797.6" font-size="12" text-anchor="middle" font-weight="bold" fill="#000">G</text>
</svg></body></html>
